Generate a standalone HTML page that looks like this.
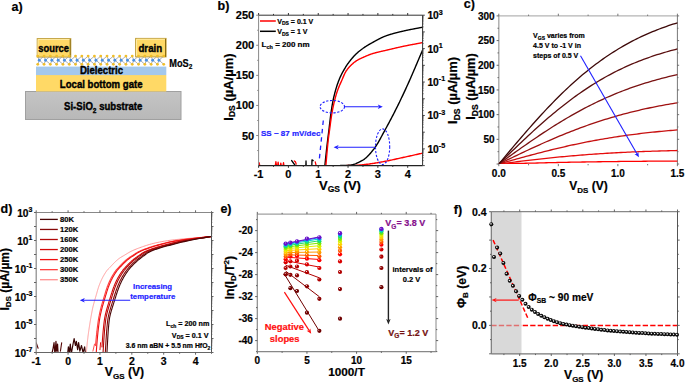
<!DOCTYPE html><html><head><meta charset="utf-8"><style>html,body{margin:0;padding:0;background:#fff;overflow:hidden}svg{display:block}</style></head><body>
<svg width="685" height="383" viewBox="0 0 685 383" style="font-family:'Liberation Sans',sans-serif;font-weight:bold">
<rect width="685" height="383" fill="#fff"/>
<text x="11.50" y="10.90" font-size="12.5" text-anchor="start" fill="#000" stroke="#000" stroke-width="0.2" >a)</text>
<defs><linearGradient id="gsub" x1="0" y1="0" x2="0" y2="1"><stop offset="0" stop-color="#c4c4c4"/><stop offset="1" stop-color="#b8b8b8"/></linearGradient><linearGradient id="ggold" x1="0" y1="0" x2="0" y2="1"><stop offset="0" stop-color="#ffe07a"/><stop offset="1" stop-color="#ffd54f"/></linearGradient></defs>
<rect x="25.5" y="91.5" width="155.5" height="28" fill="url(#gsub)" stroke="#a0a0a0" stroke-width="1"/>
<rect x="36" y="75" width="130.3" height="16.5" fill="#ffd966"/>
<rect x="36" y="66.6" width="130.3" height="8.5" fill="#a4c8ec"/>
<rect x="37.2" y="38.6" width="33.6" height="18.5" fill="#ffd966" stroke="#c0a040" stroke-width="1"/>
<path d="M38.1,56.2 L38.1,39.5 L69.9,39.5" stroke="#ffeaa0" stroke-width="1" fill="none"/>
<path d="M70.20000000000002,39.1 L70.20000000000002,57.1" stroke="#8c6d10" stroke-width="1" fill="none"/>
<rect x="135.6" y="38.4" width="30.5" height="18.5" fill="#ffd966" stroke="#c0a040" stroke-width="1"/>
<path d="M136.5,56.0 L136.5,39.3 L165.2,39.3" stroke="#ffeaa0" stroke-width="1" fill="none"/>
<path d="M165.5,38.9 L165.5,56.9" stroke="#8c6d10" stroke-width="1" fill="none"/>
<text x="53.60" y="51.80" font-size="9.4" text-anchor="middle" fill="#000" stroke="#000" stroke-width="0.35" transform="translate(53.60 51.80) scale(1 1.1) translate(-53.60 -51.80)" >source</text>
<text x="150.30" y="51.60" font-size="9.7" text-anchor="middle" fill="#000" stroke="#000" stroke-width="0.35" transform="translate(150.30 51.60) scale(1 1.1) translate(-150.30 -51.60)" >drain</text>
<path d="M39.25,60.2 L37.75,56.1 M39.25,60.2 L37.75,64.3 M39.25,60.2 L44.05,56.1 M39.25,60.2 L44.05,64.3 M45.55,60.2 L44.05,56.1 M45.55,60.2 L44.05,64.3 M45.55,60.2 L50.35,56.1 M45.55,60.2 L50.35,64.3 M51.85,60.2 L50.35,56.1 M51.85,60.2 L50.35,64.3 M51.85,60.2 L56.65,56.1 M51.85,60.2 L56.65,64.3 M58.15,60.2 L56.65,56.1 M58.15,60.2 L56.65,64.3 M58.15,60.2 L62.95,56.1 M58.15,60.2 L62.95,64.3 M64.45,60.2 L62.95,56.1 M64.45,60.2 L62.95,64.3 M64.45,60.2 L69.25,56.1 M64.45,60.2 L69.25,64.3 M70.75,60.2 L69.25,56.1 M70.75,60.2 L69.25,64.3 M70.75,60.2 L75.55,56.1 M70.75,60.2 L75.55,64.3 M77.05,60.2 L75.55,56.1 M77.05,60.2 L75.55,64.3 M77.05,60.2 L81.85,56.1 M77.05,60.2 L81.85,64.3 M83.35,60.2 L81.85,56.1 M83.35,60.2 L81.85,64.3 M83.35,60.2 L88.15,56.1 M83.35,60.2 L88.15,64.3 M89.65,60.2 L88.15,56.1 M89.65,60.2 L88.15,64.3 M89.65,60.2 L94.45,56.1 M89.65,60.2 L94.45,64.3 M95.95,60.2 L94.45,56.1 M95.95,60.2 L94.45,64.3 M95.95,60.2 L100.75,56.1 M95.95,60.2 L100.75,64.3 M102.25,60.2 L100.75,56.1 M102.25,60.2 L100.75,64.3 M102.25,60.2 L107.05,56.1 M102.25,60.2 L107.05,64.3 M108.55,60.2 L107.05,56.1 M108.55,60.2 L107.05,64.3 M108.55,60.2 L113.35,56.1 M108.55,60.2 L113.35,64.3 M114.85,60.2 L113.35,56.1 M114.85,60.2 L113.35,64.3 M114.85,60.2 L119.65,56.1 M114.85,60.2 L119.65,64.3 M121.15,60.2 L119.65,56.1 M121.15,60.2 L119.65,64.3 M121.15,60.2 L125.95,56.1 M121.15,60.2 L125.95,64.3 M127.45,60.2 L125.95,56.1 M127.45,60.2 L125.95,64.3 M127.45,60.2 L132.25,56.1 M127.45,60.2 L132.25,64.3 M133.75,60.2 L132.25,56.1 M133.75,60.2 L132.25,64.3 M133.75,60.2 L138.55,56.1 M133.75,60.2 L138.55,64.3 M140.05,60.2 L138.55,56.1 M140.05,60.2 L138.55,64.3 M140.05,60.2 L144.85,56.1 M140.05,60.2 L144.85,64.3 M146.35,60.2 L144.85,56.1 M146.35,60.2 L144.85,64.3 M146.35,60.2 L151.15,56.1 M146.35,60.2 L151.15,64.3 M152.65,60.2 L151.15,56.1 M152.65,60.2 L151.15,64.3 M152.65,60.2 L157.45,56.1 M152.65,60.2 L157.45,64.3 M158.95,60.2 L157.45,56.1 M158.95,60.2 L157.45,64.3 M158.95,60.2 L163.75,56.1 M158.95,60.2 L163.75,64.3" stroke="#9a9a9a" stroke-width="0.8" fill="none"/>
<circle cx="37.75" cy="56.1" r="1.4" fill="#f0be28"/>
<circle cx="37.75" cy="64.3" r="1.4" fill="#f0be28"/>
<circle cx="44.05" cy="56.1" r="1.4" fill="#f0be28"/>
<circle cx="44.05" cy="64.3" r="1.4" fill="#f0be28"/>
<circle cx="50.35" cy="56.1" r="1.4" fill="#f0be28"/>
<circle cx="50.35" cy="64.3" r="1.4" fill="#f0be28"/>
<circle cx="56.65" cy="56.1" r="1.4" fill="#f0be28"/>
<circle cx="56.65" cy="64.3" r="1.4" fill="#f0be28"/>
<circle cx="62.95" cy="56.1" r="1.4" fill="#f0be28"/>
<circle cx="62.95" cy="64.3" r="1.4" fill="#f0be28"/>
<circle cx="69.25" cy="56.1" r="1.4" fill="#f0be28"/>
<circle cx="69.25" cy="64.3" r="1.4" fill="#f0be28"/>
<circle cx="75.55" cy="56.1" r="1.4" fill="#f0be28"/>
<circle cx="75.55" cy="64.3" r="1.4" fill="#f0be28"/>
<circle cx="81.85" cy="56.1" r="1.4" fill="#f0be28"/>
<circle cx="81.85" cy="64.3" r="1.4" fill="#f0be28"/>
<circle cx="88.15" cy="56.1" r="1.4" fill="#f0be28"/>
<circle cx="88.15" cy="64.3" r="1.4" fill="#f0be28"/>
<circle cx="94.45" cy="56.1" r="1.4" fill="#f0be28"/>
<circle cx="94.45" cy="64.3" r="1.4" fill="#f0be28"/>
<circle cx="100.75" cy="56.1" r="1.4" fill="#f0be28"/>
<circle cx="100.75" cy="64.3" r="1.4" fill="#f0be28"/>
<circle cx="107.05" cy="56.1" r="1.4" fill="#f0be28"/>
<circle cx="107.05" cy="64.3" r="1.4" fill="#f0be28"/>
<circle cx="113.35" cy="56.1" r="1.4" fill="#f0be28"/>
<circle cx="113.35" cy="64.3" r="1.4" fill="#f0be28"/>
<circle cx="119.65" cy="56.1" r="1.4" fill="#f0be28"/>
<circle cx="119.65" cy="64.3" r="1.4" fill="#f0be28"/>
<circle cx="125.95" cy="56.1" r="1.4" fill="#f0be28"/>
<circle cx="125.95" cy="64.3" r="1.4" fill="#f0be28"/>
<circle cx="132.25" cy="56.1" r="1.4" fill="#f0be28"/>
<circle cx="132.25" cy="64.3" r="1.4" fill="#f0be28"/>
<circle cx="138.55" cy="56.1" r="1.4" fill="#f0be28"/>
<circle cx="138.55" cy="64.3" r="1.4" fill="#f0be28"/>
<circle cx="144.85" cy="56.1" r="1.4" fill="#f0be28"/>
<circle cx="144.85" cy="64.3" r="1.4" fill="#f0be28"/>
<circle cx="151.15" cy="56.1" r="1.4" fill="#f0be28"/>
<circle cx="151.15" cy="64.3" r="1.4" fill="#f0be28"/>
<circle cx="157.45" cy="56.1" r="1.4" fill="#f0be28"/>
<circle cx="157.45" cy="64.3" r="1.4" fill="#f0be28"/>
<circle cx="163.75" cy="56.1" r="1.4" fill="#f0be28"/>
<circle cx="163.75" cy="64.3" r="1.4" fill="#f0be28"/>
<circle cx="39.25" cy="60.2" r="1.45" fill="#4a90e2"/>
<circle cx="45.55" cy="60.2" r="1.45" fill="#4a90e2"/>
<circle cx="51.85" cy="60.2" r="1.45" fill="#4a90e2"/>
<circle cx="58.15" cy="60.2" r="1.45" fill="#4a90e2"/>
<circle cx="64.45" cy="60.2" r="1.45" fill="#4a90e2"/>
<circle cx="70.75" cy="60.2" r="1.45" fill="#4a90e2"/>
<circle cx="77.05" cy="60.2" r="1.45" fill="#4a90e2"/>
<circle cx="83.35" cy="60.2" r="1.45" fill="#4a90e2"/>
<circle cx="89.65" cy="60.2" r="1.45" fill="#4a90e2"/>
<circle cx="95.95" cy="60.2" r="1.45" fill="#4a90e2"/>
<circle cx="102.25" cy="60.2" r="1.45" fill="#4a90e2"/>
<circle cx="108.55" cy="60.2" r="1.45" fill="#4a90e2"/>
<circle cx="114.85" cy="60.2" r="1.45" fill="#4a90e2"/>
<circle cx="121.15" cy="60.2" r="1.45" fill="#4a90e2"/>
<circle cx="127.45" cy="60.2" r="1.45" fill="#4a90e2"/>
<circle cx="133.75" cy="60.2" r="1.45" fill="#4a90e2"/>
<circle cx="140.05" cy="60.2" r="1.45" fill="#4a90e2"/>
<circle cx="146.35" cy="60.2" r="1.45" fill="#4a90e2"/>
<circle cx="152.65" cy="60.2" r="1.45" fill="#4a90e2"/>
<circle cx="158.95" cy="60.2" r="1.45" fill="#4a90e2"/>
<text x="169.30" y="66.70" font-size="9.2" text-anchor="start" fill="#000" stroke="#000" stroke-width="0.2" transform="translate(169.30 66.70) scale(1 1.1) translate(-169.30 -66.70)" >MoS<tspan font-size="6.5" dy="2.2">2</tspan></text>
<text x="101.50" y="74.50" font-size="9.6" text-anchor="middle" fill="#000" stroke="#000" stroke-width="0.35" transform="translate(101.50 74.50) scale(1 1.1) translate(-101.50 -74.50)" >Dielectric</text>
<text x="101.20" y="87.60" font-size="9.6" text-anchor="middle" fill="#000" stroke="#000" stroke-width="0.35" transform="translate(101.20 87.60) scale(1 1.12) translate(-101.20 -87.60)" >Local bottom gate</text>
<text x="103.20" y="110.20" font-size="9.6" text-anchor="middle" fill="#000" stroke="#000" stroke-width="0.35" transform="translate(103.20 110.20) scale(1 1.12) translate(-103.20 -110.20)" >Si-SiO<tspan font-size="6.5" dy="2.2">2</tspan><tspan dy="-2.2"> substrate</tspan></text>
<text x="217.50" y="9.80" font-size="12.5" text-anchor="start" fill="#000" stroke="#000" stroke-width="0.2" >b)</text>
<defs><clipPath id="cb"><rect x="258.6" y="12.2" width="164.0" height="153.4"/></clipPath></defs>
<g clip-path="url(#cb)">
<path d="M258.60,165.60 L259.05,162.60 L259.79,165.60" fill="none" stroke="#f00" stroke-width="1.3" stroke-linejoin="round" stroke-linecap="round" />
<path d="M275.30,165.60 L275.89,161.60 L276.49,165.60 L277.68,165.60 L278.13,162.10 L278.58,165.60 L280.37,165.60 L280.81,163.10 L281.26,165.60" fill="none" stroke="#f00" stroke-width="1.3" stroke-linejoin="round" stroke-linecap="round" />
<path d="M283.05,165.60 L283.50,162.60 L283.95,165.60" fill="none" stroke="#f00" stroke-width="1.3" stroke-linejoin="round" stroke-linecap="round" />
<path d="M294.38,161.00 L295.57,162.10 L296.17,164.10" fill="none" stroke="#f00" stroke-width="1.3" stroke-linejoin="round" stroke-linecap="round" />
<path d="M291.70,160.60 L293.49,163.10 L294.98,165.10" fill="none" stroke="#000" stroke-width="1.4" stroke-linejoin="round" stroke-linecap="round" />
<path d="M305.86,165.60 L306.01,161.00 L306.16,165.60" fill="none" stroke="#000" stroke-width="1.3" stroke-linejoin="round" stroke-linecap="round" />
<path d="M311.83,165.60 L311.97,159.80 L313.17,160.60" fill="none" stroke="#000" stroke-width="1.3" stroke-linejoin="round" stroke-linecap="round" />
<path d="M315.25,161.80 L316.15,165.60" fill="none" stroke="#f00" stroke-width="1.3" stroke-linejoin="round" stroke-linecap="round" />
<path d="M345.07,165.60 L346.05,165.58 L347.04,165.56 L348.02,165.55 L349.00,165.53 L349.98,165.52 L350.96,165.50 L351.94,165.48 L352.92,165.45 L353.90,165.42 L354.89,165.39 L355.87,165.34 L356.85,165.28 L357.83,165.21 L358.81,165.13 L359.79,165.04 L360.77,164.95 L361.76,164.85 L362.74,164.75 L363.72,164.64 L364.70,164.53 L365.68,164.43 L366.66,164.32 L367.64,164.20 L368.63,164.08 L369.61,163.94 L370.59,163.81 L371.57,163.66 L372.55,163.51 L373.53,163.36 L374.51,163.20 L375.49,163.04 L376.48,162.87 L377.46,162.70 L378.44,162.53 L379.42,162.36 L380.40,162.18 L381.38,162.00 L382.36,161.82 L383.35,161.64 L384.33,161.46 L385.31,161.28 L386.29,161.10 L387.27,160.90 L388.25,160.71 L389.23,160.51 L390.22,160.30 L391.20,160.10 L392.18,159.88 L393.16,159.67 L394.14,159.46 L395.12,159.24 L396.10,159.02 L397.08,158.80 L398.07,158.59 L399.05,158.37 L400.03,158.15 L401.01,157.94 L401.99,157.72 L402.97,157.51 L403.95,157.29 L404.94,157.08 L405.92,156.86 L406.90,156.65 L407.88,156.43 L408.86,156.21 L409.84,155.99 L410.82,155.78 L411.81,155.56 L412.79,155.34 L413.77,155.12 L414.75,154.90 L415.73,154.68 L416.71,154.46 L417.69,154.24 L418.67,154.02 L419.66,153.80 L420.64,153.58 L421.62,153.36 L422.60,153.15" fill="none" stroke="#ff0000" stroke-width="1.4" stroke-linejoin="round" stroke-linecap="round" />
<path d="M339.11,165.60 L339.81,165.58 L340.51,165.55 L341.21,165.53 L341.92,165.52 L342.62,165.50 L343.32,165.48 L344.02,165.46 L344.72,165.44 L345.42,165.42 L346.13,165.39 L346.83,165.36 L347.53,165.33 L348.23,165.30 L348.93,165.26 L349.63,165.21 L350.33,165.13 L351.04,165.02 L351.74,164.89 L352.44,164.72 L353.14,164.53 L353.84,164.32 L354.54,164.08 L355.25,163.82 L355.95,163.54 L356.65,163.24 L357.35,162.93 L358.05,162.60 L358.75,162.26 L359.46,161.91 L360.16,161.54 L360.86,161.17 L361.56,160.79 L362.26,160.41 L362.96,160.02 L363.67,159.58 L364.37,159.09 L365.07,158.56 L365.77,157.98 L366.47,157.36 L367.17,156.71 L367.87,156.01 L368.58,155.29 L369.28,154.53 L369.98,153.75 L370.68,152.95 L371.38,152.12 L372.08,151.28 L372.79,150.42 L373.49,149.55 L374.19,148.66 L374.89,147.71 L375.59,146.69 L376.29,145.62 L377.00,144.49 L377.70,143.32 L378.40,142.11 L379.10,140.87 L379.80,139.61 L380.50,138.32 L381.21,137.02 L381.91,135.72 L382.61,134.41 L383.31,133.11 L384.01,131.82 L384.71,130.55 L385.41,129.28 L386.12,128.01 L386.82,126.73 L387.52,125.44 L388.22,124.14 L388.92,122.84 L389.62,121.52 L390.33,120.20 L391.03,118.86 L391.73,117.52 L392.43,116.17 L393.13,114.82 L393.83,113.45 L394.54,112.07 L395.24,110.69 L395.94,109.30 L396.64,107.90 L397.34,106.49 L398.04,105.07 L398.75,103.64 L399.45,102.20 L400.15,100.75 L400.85,99.29 L401.55,97.82 L402.25,96.35 L402.96,94.86 L403.66,93.37 L404.36,91.87 L405.06,90.35 L405.76,88.84 L406.46,87.31 L407.16,85.77 L407.87,84.23 L408.57,82.66 L409.27,81.09 L409.97,79.50 L410.67,77.91 L411.37,76.30 L412.08,74.68 L412.78,73.06 L413.48,71.43 L414.18,69.79 L414.88,68.15 L415.58,66.51 L416.29,64.86 L416.99,63.21 L417.69,61.57 L418.39,59.92 L419.09,58.27 L419.79,56.63 L420.50,54.98 L421.20,53.35 L421.90,51.72 L422.60,50.09" fill="none" stroke="#000" stroke-width="1.4" stroke-linejoin="round" stroke-linecap="round" />
<path d="M324.35,170.61 L324.68,167.48 L325.01,164.31 L325.33,161.12 L325.66,157.94 L325.99,154.79 L326.32,151.70 L326.65,148.68 L326.98,145.76 L327.31,142.97 L327.64,140.30 L327.96,137.69 L328.29,135.10 L328.62,132.50 L328.95,129.85 L329.28,127.07 L329.61,124.19 L329.94,121.31 L330.26,118.50 L330.59,115.87 L330.92,113.48 L331.25,111.19 L331.58,108.99 L331.91,106.89 L332.24,104.90 L332.56,103.05 L332.89,101.33 L333.22,99.74 L333.55,98.22 L333.88,96.76 L334.21,95.38 L334.54,94.05 L334.86,92.78 L335.19,91.56 L335.52,90.39 L335.85,89.26 L336.18,88.16 L336.51,87.10 L336.84,86.07 L337.16,85.06 L337.49,84.09 L337.82,83.15 L338.15,82.23 L338.48,81.34 L338.81,80.49 L339.14,79.66 L339.46,78.85 L339.79,78.08 L340.12,77.33 L340.45,76.60 L340.78,75.90 L341.11,75.21 L341.44,74.55 L341.76,73.90 L342.09,73.26 L342.42,72.65 L342.75,72.04 L343.08,71.45 L343.41,70.86 L343.74,70.28 L344.06,69.71 L344.39,69.15 L344.72,68.59 L345.05,68.04 L345.38,67.50 L345.71,66.97 L346.04,66.44 L346.37,65.93 L346.69,65.42 L347.02,64.93 L347.35,64.44 L347.68,63.97 L348.01,63.50 L348.34,63.05 L348.67,62.61 L348.99,62.17 L349.32,61.74 L349.65,61.31 L349.98,60.89 L350.31,60.47 L350.64,60.06 L350.97,59.65 L351.29,59.24 L351.62,58.84 L351.95,58.45 L352.28,58.06 L352.61,57.68 L352.94,57.30 L353.27,56.93 L353.59,56.56 L353.92,56.20 L354.25,55.85 L354.58,55.50 L354.91,55.16 L355.24,54.83 L355.57,54.50 L355.89,54.18 L356.22,53.86 L356.55,53.55 L356.88,53.25 L357.21,52.95 L357.54,52.65 L357.87,52.36 L358.19,52.08 L358.52,51.80 L358.85,51.52 L359.18,51.25 L359.51,50.98 L359.84,50.71 L360.17,50.45 L360.49,50.19 L360.82,49.94 L361.15,49.69 L361.48,49.44 L361.81,49.19 L362.14,48.95 L362.47,48.71 L362.80,48.48 L363.12,48.24 L363.45,48.01 L363.78,47.78 L364.11,47.56 L364.44,47.33 L364.77,47.11 L365.10,46.89 L365.42,46.68 L365.75,46.46 L366.08,46.25 L366.41,46.05 L366.74,45.84 L367.07,45.64 L367.40,45.44 L367.72,45.24 L368.05,45.04 L368.38,44.85 L368.71,44.66 L369.04,44.47 L369.37,44.28 L369.70,44.09 L370.02,43.90 L370.35,43.72 L370.68,43.54 L371.01,43.35 L371.34,43.17 L371.67,42.99 L372.00,42.81 L372.32,42.63 L372.65,42.45 L372.98,42.27 L373.31,42.08 L373.64,41.90 L373.97,41.72 L374.30,41.54 L374.62,41.36 L374.95,41.17 L375.28,40.99 L375.61,40.81 L375.94,40.63 L376.27,40.45 L376.60,40.27 L376.92,40.10 L377.25,39.92 L377.58,39.74 L377.91,39.57 L378.24,39.39 L378.57,39.22 L378.90,39.05 L379.23,38.88 L379.55,38.71 L379.88,38.54 L380.21,38.37 L380.54,38.21 L380.87,38.05 L381.20,37.89 L381.53,37.73 L381.85,37.58 L382.18,37.42 L382.51,37.27 L382.84,37.12 L383.17,36.98 L383.50,36.84 L383.83,36.69 L384.15,36.56 L384.48,36.42 L384.81,36.29 L385.14,36.16 L385.47,36.04 L385.80,35.92 L386.13,35.80 L386.45,35.68 L386.78,35.57 L387.11,35.45 L387.44,35.34 L387.77,35.23 L388.10,35.12 L388.43,35.01 L388.75,34.90 L389.08,34.80 L389.41,34.69 L389.74,34.59 L390.07,34.49 L390.40,34.39 L390.73,34.29 L391.05,34.19 L391.38,34.09 L391.71,34.00 L392.04,33.90 L392.37,33.81 L392.70,33.71 L393.03,33.62 L393.35,33.53 L393.68,33.44 L394.01,33.35 L394.34,33.26 L394.67,33.17 L395.00,33.08 L395.33,32.99 L395.65,32.91 L395.98,32.82 L396.31,32.74 L396.64,32.66 L396.97,32.57 L397.30,32.49 L397.63,32.41 L397.96,32.33 L398.28,32.25 L398.61,32.17 L398.94,32.09 L399.27,32.01 L399.60,31.93 L399.93,31.85 L400.26,31.77 L400.58,31.69 L400.91,31.62 L401.24,31.54 L401.57,31.46 L401.90,31.39 L402.23,31.31 L402.56,31.23 L402.88,31.16 L403.21,31.08 L403.54,31.01 L403.87,30.93 L404.20,30.86 L404.53,30.78 L404.86,30.71 L405.18,30.63 L405.51,30.56 L405.84,30.49 L406.17,30.42 L406.50,30.34 L406.83,30.27 L407.16,30.20 L407.48,30.13 L407.81,30.07 L408.14,30.00 L408.47,29.93 L408.80,29.86 L409.13,29.80 L409.46,29.73 L409.78,29.66 L410.11,29.60 L410.44,29.53 L410.77,29.47 L411.10,29.40 L411.43,29.34 L411.76,29.28 L412.08,29.21 L412.41,29.15 L412.74,29.09 L413.07,29.03 L413.40,28.96 L413.73,28.90 L414.06,28.84 L414.39,28.78 L414.71,28.72 L415.04,28.66 L415.37,28.60 L415.70,28.53 L416.03,28.47 L416.36,28.41 L416.69,28.35 L417.01,28.29 L417.34,28.23 L417.67,28.17 L418.00,28.11 L418.33,28.05 L418.66,27.98 L418.99,27.92 L419.31,27.86 L419.64,27.80 L419.97,27.74 L420.30,27.68 L420.63,27.61 L420.96,27.55 L421.29,27.49 L421.61,27.42 L421.94,27.36 L422.27,27.30 L422.60,27.23" fill="none" stroke="#000" stroke-width="1.4" stroke-linejoin="round" stroke-linecap="round" />
<path d="M325.39,170.61 L325.72,167.05 L326.04,163.38 L326.37,159.66 L326.69,155.94 L327.02,152.28 L327.34,148.72 L327.67,145.33 L327.99,142.15 L328.32,139.24 L328.64,136.64 L328.97,134.26 L329.29,131.96 L329.62,129.62 L329.94,127.20 L330.27,124.72 L330.59,122.26 L330.92,119.85 L331.24,117.54 L331.57,115.39 L331.89,113.43 L332.22,111.60 L332.55,109.84 L332.87,108.17 L333.20,106.57 L333.52,105.04 L333.85,103.59 L334.17,102.20 L334.50,100.87 L334.82,99.59 L335.15,98.36 L335.47,97.17 L335.80,96.02 L336.12,94.92 L336.45,93.85 L336.77,92.82 L337.10,91.83 L337.42,90.88 L337.75,89.96 L338.07,89.07 L338.40,88.23 L338.72,87.41 L339.05,86.62 L339.37,85.85 L339.70,85.09 L340.02,84.35 L340.35,83.62 L340.67,82.89 L341.00,82.16 L341.32,81.43 L341.65,80.69 L341.97,79.94 L342.30,79.17 L342.62,78.40 L342.95,77.63 L343.27,76.87 L343.60,76.11 L343.92,75.37 L344.25,74.65 L344.57,73.95 L344.90,73.28 L345.22,72.65 L345.55,72.05 L345.87,71.50 L346.20,70.99 L346.52,70.50 L346.85,70.03 L347.17,69.57 L347.50,69.14 L347.83,68.72 L348.15,68.32 L348.48,67.93 L348.80,67.55 L349.13,67.19 L349.45,66.83 L349.78,66.49 L350.10,66.15 L350.43,65.82 L350.75,65.49 L351.08,65.17 L351.40,64.86 L351.73,64.55 L352.05,64.24 L352.38,63.95 L352.70,63.66 L353.03,63.37 L353.35,63.09 L353.68,62.82 L354.00,62.56 L354.33,62.30 L354.65,62.05 L354.98,61.81 L355.30,61.57 L355.63,61.34 L355.95,61.12 L356.28,60.91 L356.60,60.70 L356.93,60.50 L357.25,60.31 L357.58,60.12 L357.90,59.93 L358.23,59.75 L358.55,59.57 L358.88,59.40 L359.20,59.23 L359.53,59.07 L359.85,58.90 L360.18,58.74 L360.50,58.59 L360.83,58.43 L361.15,58.28 L361.48,58.13 L361.80,57.98 L362.13,57.83 L362.46,57.68 L362.78,57.54 L363.11,57.39 L363.43,57.25 L363.76,57.10 L364.08,56.96 L364.41,56.81 L364.73,56.67 L365.06,56.53 L365.38,56.38 L365.71,56.24 L366.03,56.10 L366.36,55.96 L366.68,55.82 L367.01,55.68 L367.33,55.54 L367.66,55.41 L367.98,55.27 L368.31,55.14 L368.63,55.01 L368.96,54.88 L369.28,54.76 L369.61,54.63 L369.93,54.51 L370.26,54.39 L370.58,54.28 L370.91,54.16 L371.23,54.05 L371.56,53.94 L371.88,53.84 L372.21,53.74 L372.53,53.64 L372.86,53.54 L373.18,53.44 L373.51,53.35 L373.83,53.25 L374.16,53.16 L374.48,53.07 L374.81,52.98 L375.13,52.89 L375.46,52.80 L375.78,52.71 L376.11,52.63 L376.43,52.54 L376.76,52.46 L377.08,52.38 L377.41,52.30 L377.74,52.21 L378.06,52.13 L378.39,52.06 L378.71,51.98 L379.04,51.90 L379.36,51.82 L379.69,51.74 L380.01,51.67 L380.34,51.59 L380.66,51.52 L380.99,51.44 L381.31,51.37 L381.64,51.29 L381.96,51.22 L382.29,51.15 L382.61,51.07 L382.94,51.00 L383.26,50.93 L383.59,50.85 L383.91,50.78 L384.24,50.71 L384.56,50.63 L384.89,50.56 L385.21,50.48 L385.54,50.41 L385.86,50.33 L386.19,50.26 L386.51,50.18 L386.84,50.11 L387.16,50.03 L387.49,49.96 L387.81,49.88 L388.14,49.80 L388.46,49.72 L388.79,49.65 L389.11,49.57 L389.44,49.49 L389.76,49.41 L390.09,49.33 L390.41,49.26 L390.74,49.18 L391.06,49.10 L391.39,49.03 L391.71,48.95 L392.04,48.87 L392.36,48.79 L392.69,48.72 L393.02,48.64 L393.34,48.56 L393.67,48.49 L393.99,48.41 L394.32,48.33 L394.64,48.26 L394.97,48.18 L395.29,48.11 L395.62,48.03 L395.94,47.95 L396.27,47.88 L396.59,47.80 L396.92,47.73 L397.24,47.66 L397.57,47.58 L397.89,47.51 L398.22,47.43 L398.54,47.36 L398.87,47.29 L399.19,47.21 L399.52,47.14 L399.84,47.07 L400.17,47.00 L400.49,46.92 L400.82,46.85 L401.14,46.78 L401.47,46.71 L401.79,46.64 L402.12,46.57 L402.44,46.50 L402.77,46.43 L403.09,46.36 L403.42,46.29 L403.74,46.23 L404.07,46.16 L404.39,46.09 L404.72,46.02 L405.04,45.96 L405.37,45.89 L405.69,45.83 L406.02,45.76 L406.34,45.70 L406.67,45.63 L406.99,45.57 L407.32,45.50 L407.65,45.44 L407.97,45.37 L408.30,45.31 L408.62,45.25 L408.95,45.18 L409.27,45.12 L409.60,45.06 L409.92,44.99 L410.25,44.93 L410.57,44.87 L410.90,44.81 L411.22,44.75 L411.55,44.68 L411.87,44.62 L412.20,44.56 L412.52,44.50 L412.85,44.44 L413.17,44.38 L413.50,44.32 L413.82,44.26 L414.15,44.20 L414.47,44.13 L414.80,44.07 L415.12,44.01 L415.45,43.95 L415.77,43.89 L416.10,43.83 L416.42,43.77 L416.75,43.71 L417.07,43.65 L417.40,43.59 L417.72,43.53 L418.05,43.47 L418.37,43.41 L418.70,43.35 L419.02,43.28 L419.35,43.22 L419.67,43.16 L420.00,43.10 L420.32,43.04 L420.65,42.98 L420.97,42.92 L421.30,42.85 L421.62,42.79 L421.95,42.73 L422.27,42.67 L422.60,42.61" fill="none" stroke="#ff0000" stroke-width="1.4" stroke-linejoin="round" stroke-linecap="round" />
</g>
<line x1="258.60" y1="15.20" x2="258.60" y2="165.60" stroke="#888" stroke-width="1" />
<line x1="258.60" y1="15.20" x2="422.60" y2="15.20" stroke="#333" stroke-width="1" />
<line x1="422.60" y1="15.20" x2="422.60" y2="165.60" stroke="#333" stroke-width="1" />
<line x1="258.60" y1="165.60" x2="422.60" y2="165.60" stroke="#222" stroke-width="1.2" />
<line x1="258.60" y1="165.60" x2="258.60" y2="167.80" stroke="#333" stroke-width="1" />
<line x1="258.60" y1="15.20" x2="258.60" y2="13.00" stroke="#333" stroke-width="1" />
<line x1="273.51" y1="165.60" x2="273.51" y2="166.90" stroke="#333" stroke-width="1" />
<line x1="273.51" y1="15.20" x2="273.51" y2="13.90" stroke="#333" stroke-width="1" />
<line x1="288.42" y1="165.60" x2="288.42" y2="167.80" stroke="#333" stroke-width="1" />
<line x1="288.42" y1="15.20" x2="288.42" y2="13.00" stroke="#333" stroke-width="1" />
<line x1="303.33" y1="165.60" x2="303.33" y2="166.90" stroke="#333" stroke-width="1" />
<line x1="303.33" y1="15.20" x2="303.33" y2="13.90" stroke="#333" stroke-width="1" />
<line x1="318.24" y1="165.60" x2="318.24" y2="167.80" stroke="#333" stroke-width="1" />
<line x1="318.24" y1="15.20" x2="318.24" y2="13.00" stroke="#333" stroke-width="1" />
<line x1="333.15" y1="165.60" x2="333.15" y2="166.90" stroke="#333" stroke-width="1" />
<line x1="333.15" y1="15.20" x2="333.15" y2="13.90" stroke="#333" stroke-width="1" />
<line x1="348.05" y1="165.60" x2="348.05" y2="167.80" stroke="#333" stroke-width="1" />
<line x1="348.05" y1="15.20" x2="348.05" y2="13.00" stroke="#333" stroke-width="1" />
<line x1="362.96" y1="165.60" x2="362.96" y2="166.90" stroke="#333" stroke-width="1" />
<line x1="362.96" y1="15.20" x2="362.96" y2="13.90" stroke="#333" stroke-width="1" />
<line x1="377.87" y1="165.60" x2="377.87" y2="167.80" stroke="#333" stroke-width="1" />
<line x1="377.87" y1="15.20" x2="377.87" y2="13.00" stroke="#333" stroke-width="1" />
<line x1="392.78" y1="165.60" x2="392.78" y2="166.90" stroke="#333" stroke-width="1" />
<line x1="392.78" y1="15.20" x2="392.78" y2="13.90" stroke="#333" stroke-width="1" />
<line x1="407.69" y1="165.60" x2="407.69" y2="167.80" stroke="#333" stroke-width="1" />
<line x1="407.69" y1="15.20" x2="407.69" y2="13.00" stroke="#333" stroke-width="1" />
<line x1="258.60" y1="150.56" x2="257.20" y2="150.56" stroke="#888" stroke-width="1" />
<line x1="258.60" y1="135.52" x2="256.20" y2="135.52" stroke="#888" stroke-width="1" />
<line x1="258.60" y1="120.48" x2="257.20" y2="120.48" stroke="#888" stroke-width="1" />
<line x1="258.60" y1="105.44" x2="256.20" y2="105.44" stroke="#888" stroke-width="1" />
<line x1="258.60" y1="90.40" x2="257.20" y2="90.40" stroke="#888" stroke-width="1" />
<line x1="258.60" y1="75.36" x2="256.20" y2="75.36" stroke="#888" stroke-width="1" />
<line x1="258.60" y1="60.32" x2="257.20" y2="60.32" stroke="#888" stroke-width="1" />
<line x1="258.60" y1="45.28" x2="256.20" y2="45.28" stroke="#888" stroke-width="1" />
<line x1="258.60" y1="30.24" x2="257.20" y2="30.24" stroke="#888" stroke-width="1" />
<line x1="258.60" y1="15.20" x2="256.20" y2="15.20" stroke="#888" stroke-width="1" />
<line x1="422.60" y1="165.60" x2="424.80" y2="165.60" stroke="#333" stroke-width="0.9" />
<line x1="422.60" y1="160.57" x2="423.70" y2="160.57" stroke="#333" stroke-width="0.6" />
<line x1="422.60" y1="157.63" x2="423.70" y2="157.63" stroke="#333" stroke-width="0.6" />
<line x1="422.60" y1="155.54" x2="423.70" y2="155.54" stroke="#333" stroke-width="0.6" />
<line x1="422.60" y1="153.92" x2="423.70" y2="153.92" stroke="#333" stroke-width="0.6" />
<line x1="422.60" y1="152.60" x2="423.70" y2="152.60" stroke="#333" stroke-width="0.6" />
<line x1="422.60" y1="151.48" x2="423.70" y2="151.48" stroke="#333" stroke-width="0.6" />
<line x1="422.60" y1="150.51" x2="423.70" y2="150.51" stroke="#333" stroke-width="0.6" />
<line x1="422.60" y1="149.65" x2="423.70" y2="149.65" stroke="#333" stroke-width="0.6" />
<line x1="422.60" y1="148.89" x2="424.80" y2="148.89" stroke="#333" stroke-width="0.9" />
<line x1="422.60" y1="143.86" x2="423.70" y2="143.86" stroke="#333" stroke-width="0.6" />
<line x1="422.60" y1="140.92" x2="423.70" y2="140.92" stroke="#333" stroke-width="0.6" />
<line x1="422.60" y1="138.83" x2="423.70" y2="138.83" stroke="#333" stroke-width="0.6" />
<line x1="422.60" y1="137.21" x2="423.70" y2="137.21" stroke="#333" stroke-width="0.6" />
<line x1="422.60" y1="135.89" x2="423.70" y2="135.89" stroke="#333" stroke-width="0.6" />
<line x1="422.60" y1="134.77" x2="423.70" y2="134.77" stroke="#333" stroke-width="0.6" />
<line x1="422.60" y1="133.80" x2="423.70" y2="133.80" stroke="#333" stroke-width="0.6" />
<line x1="422.60" y1="132.94" x2="423.70" y2="132.94" stroke="#333" stroke-width="0.6" />
<line x1="422.60" y1="132.18" x2="424.80" y2="132.18" stroke="#333" stroke-width="0.9" />
<line x1="422.60" y1="127.15" x2="423.70" y2="127.15" stroke="#333" stroke-width="0.6" />
<line x1="422.60" y1="124.20" x2="423.70" y2="124.20" stroke="#333" stroke-width="0.6" />
<line x1="422.60" y1="122.12" x2="423.70" y2="122.12" stroke="#333" stroke-width="0.6" />
<line x1="422.60" y1="120.50" x2="423.70" y2="120.50" stroke="#333" stroke-width="0.6" />
<line x1="422.60" y1="119.17" x2="423.70" y2="119.17" stroke="#333" stroke-width="0.6" />
<line x1="422.60" y1="118.06" x2="423.70" y2="118.06" stroke="#333" stroke-width="0.6" />
<line x1="422.60" y1="117.09" x2="423.70" y2="117.09" stroke="#333" stroke-width="0.6" />
<line x1="422.60" y1="116.23" x2="423.70" y2="116.23" stroke="#333" stroke-width="0.6" />
<line x1="422.60" y1="115.47" x2="424.80" y2="115.47" stroke="#333" stroke-width="0.9" />
<line x1="422.60" y1="110.44" x2="423.70" y2="110.44" stroke="#333" stroke-width="0.6" />
<line x1="422.60" y1="107.49" x2="423.70" y2="107.49" stroke="#333" stroke-width="0.6" />
<line x1="422.60" y1="105.41" x2="423.70" y2="105.41" stroke="#333" stroke-width="0.6" />
<line x1="422.60" y1="103.79" x2="423.70" y2="103.79" stroke="#333" stroke-width="0.6" />
<line x1="422.60" y1="102.46" x2="423.70" y2="102.46" stroke="#333" stroke-width="0.6" />
<line x1="422.60" y1="101.34" x2="423.70" y2="101.34" stroke="#333" stroke-width="0.6" />
<line x1="422.60" y1="100.38" x2="423.70" y2="100.38" stroke="#333" stroke-width="0.6" />
<line x1="422.60" y1="99.52" x2="423.70" y2="99.52" stroke="#333" stroke-width="0.6" />
<line x1="422.60" y1="98.76" x2="424.80" y2="98.76" stroke="#333" stroke-width="0.9" />
<line x1="422.60" y1="93.73" x2="423.70" y2="93.73" stroke="#333" stroke-width="0.6" />
<line x1="422.60" y1="90.78" x2="423.70" y2="90.78" stroke="#333" stroke-width="0.6" />
<line x1="422.60" y1="88.69" x2="423.70" y2="88.69" stroke="#333" stroke-width="0.6" />
<line x1="422.60" y1="87.07" x2="423.70" y2="87.07" stroke="#333" stroke-width="0.6" />
<line x1="422.60" y1="85.75" x2="423.70" y2="85.75" stroke="#333" stroke-width="0.6" />
<line x1="422.60" y1="84.63" x2="423.70" y2="84.63" stroke="#333" stroke-width="0.6" />
<line x1="422.60" y1="83.66" x2="423.70" y2="83.66" stroke="#333" stroke-width="0.6" />
<line x1="422.60" y1="82.81" x2="423.70" y2="82.81" stroke="#333" stroke-width="0.6" />
<line x1="422.60" y1="82.04" x2="424.80" y2="82.04" stroke="#333" stroke-width="0.9" />
<line x1="422.60" y1="77.01" x2="423.70" y2="77.01" stroke="#333" stroke-width="0.6" />
<line x1="422.60" y1="74.07" x2="423.70" y2="74.07" stroke="#333" stroke-width="0.6" />
<line x1="422.60" y1="71.98" x2="423.70" y2="71.98" stroke="#333" stroke-width="0.6" />
<line x1="422.60" y1="70.36" x2="423.70" y2="70.36" stroke="#333" stroke-width="0.6" />
<line x1="422.60" y1="69.04" x2="423.70" y2="69.04" stroke="#333" stroke-width="0.6" />
<line x1="422.60" y1="67.92" x2="423.70" y2="67.92" stroke="#333" stroke-width="0.6" />
<line x1="422.60" y1="66.95" x2="423.70" y2="66.95" stroke="#333" stroke-width="0.6" />
<line x1="422.60" y1="66.10" x2="423.70" y2="66.10" stroke="#333" stroke-width="0.6" />
<line x1="422.60" y1="65.33" x2="424.80" y2="65.33" stroke="#333" stroke-width="0.9" />
<line x1="422.60" y1="60.30" x2="423.70" y2="60.30" stroke="#333" stroke-width="0.6" />
<line x1="422.60" y1="57.36" x2="423.70" y2="57.36" stroke="#333" stroke-width="0.6" />
<line x1="422.60" y1="55.27" x2="423.70" y2="55.27" stroke="#333" stroke-width="0.6" />
<line x1="422.60" y1="53.65" x2="423.70" y2="53.65" stroke="#333" stroke-width="0.6" />
<line x1="422.60" y1="52.33" x2="423.70" y2="52.33" stroke="#333" stroke-width="0.6" />
<line x1="422.60" y1="51.21" x2="423.70" y2="51.21" stroke="#333" stroke-width="0.6" />
<line x1="422.60" y1="50.24" x2="423.70" y2="50.24" stroke="#333" stroke-width="0.6" />
<line x1="422.60" y1="49.39" x2="423.70" y2="49.39" stroke="#333" stroke-width="0.6" />
<line x1="422.60" y1="48.62" x2="424.80" y2="48.62" stroke="#333" stroke-width="0.9" />
<line x1="422.60" y1="43.59" x2="423.70" y2="43.59" stroke="#333" stroke-width="0.6" />
<line x1="422.60" y1="40.65" x2="423.70" y2="40.65" stroke="#333" stroke-width="0.6" />
<line x1="422.60" y1="38.56" x2="423.70" y2="38.56" stroke="#333" stroke-width="0.6" />
<line x1="422.60" y1="36.94" x2="423.70" y2="36.94" stroke="#333" stroke-width="0.6" />
<line x1="422.60" y1="35.62" x2="423.70" y2="35.62" stroke="#333" stroke-width="0.6" />
<line x1="422.60" y1="34.50" x2="423.70" y2="34.50" stroke="#333" stroke-width="0.6" />
<line x1="422.60" y1="33.53" x2="423.70" y2="33.53" stroke="#333" stroke-width="0.6" />
<line x1="422.60" y1="32.68" x2="423.70" y2="32.68" stroke="#333" stroke-width="0.6" />
<line x1="422.60" y1="31.91" x2="424.80" y2="31.91" stroke="#333" stroke-width="0.9" />
<line x1="422.60" y1="26.88" x2="423.70" y2="26.88" stroke="#333" stroke-width="0.6" />
<line x1="422.60" y1="23.94" x2="423.70" y2="23.94" stroke="#333" stroke-width="0.6" />
<line x1="422.60" y1="21.85" x2="423.70" y2="21.85" stroke="#333" stroke-width="0.6" />
<line x1="422.60" y1="20.23" x2="423.70" y2="20.23" stroke="#333" stroke-width="0.6" />
<line x1="422.60" y1="18.91" x2="423.70" y2="18.91" stroke="#333" stroke-width="0.6" />
<line x1="422.60" y1="17.79" x2="423.70" y2="17.79" stroke="#333" stroke-width="0.6" />
<line x1="422.60" y1="16.82" x2="423.70" y2="16.82" stroke="#333" stroke-width="0.6" />
<line x1="422.60" y1="15.96" x2="423.70" y2="15.96" stroke="#333" stroke-width="0.6" />
<line x1="422.60" y1="15.20" x2="424.80" y2="15.20" stroke="#333" stroke-width="0.9" />
<text x="254.20" y="139.52" font-size="11" text-anchor="end" fill="#000" stroke="#000" stroke-width="0.2" >50</text>
<text x="254.20" y="109.44" font-size="11" text-anchor="end" fill="#000" stroke="#000" stroke-width="0.2" >100</text>
<text x="254.20" y="79.36" font-size="11" text-anchor="end" fill="#000" stroke="#000" stroke-width="0.2" >150</text>
<text x="254.20" y="49.28" font-size="11" text-anchor="end" fill="#000" stroke="#000" stroke-width="0.2" >200</text>
<text x="254.20" y="19.20" font-size="11" text-anchor="end" fill="#000" stroke="#000" stroke-width="0.2" >250</text>
<text x="258.60" y="178.40" font-size="11" text-anchor="middle" fill="#000" stroke="#000" stroke-width="0.2" >-1</text>
<text x="288.42" y="178.40" font-size="11" text-anchor="middle" fill="#000" stroke="#000" stroke-width="0.2" >0</text>
<text x="318.24" y="178.40" font-size="11" text-anchor="middle" fill="#000" stroke="#000" stroke-width="0.2" >1</text>
<text x="348.05" y="178.40" font-size="11" text-anchor="middle" fill="#000" stroke="#000" stroke-width="0.2" >2</text>
<text x="377.87" y="178.40" font-size="11" text-anchor="middle" fill="#000" stroke="#000" stroke-width="0.2" >3</text>
<text x="407.69" y="178.40" font-size="11" text-anchor="middle" fill="#000" stroke="#000" stroke-width="0.2" >4</text>
<text x="427.40" y="19.20" font-size="10.3" text-anchor="start" fill="#000" stroke="#000" stroke-width="0.2" >10<tspan font-size="7.2" dy="-4.6">3</tspan></text>
<text x="427.40" y="52.62" font-size="10.3" text-anchor="start" fill="#000" stroke="#000" stroke-width="0.2" >10<tspan font-size="7.2" dy="-4.6">1</tspan></text>
<text x="427.40" y="86.04" font-size="10.3" text-anchor="start" fill="#000" stroke="#000" stroke-width="0.2" >10<tspan font-size="7.2" dy="-4.6">-1</tspan></text>
<text x="427.40" y="119.47" font-size="10.3" text-anchor="start" fill="#000" stroke="#000" stroke-width="0.2" >10<tspan font-size="7.2" dy="-4.6">-3</tspan></text>
<text x="427.40" y="152.89" font-size="10.3" text-anchor="start" fill="#000" stroke="#000" stroke-width="0.2" >10<tspan font-size="7.2" dy="-4.6">-5</tspan></text>
<text x="232.80" y="87.00" font-size="13" text-anchor="middle" fill="#000" stroke="#000" stroke-width="0.2" transform="rotate(-90 232.8 87.0)" >I<tspan font-size="8.6" dy="2.6">DS</tspan><tspan dy="-2.6"> (µA/µm)</tspan></text>
<text x="457.20" y="90.50" font-size="12.9" text-anchor="middle" fill="#000" stroke="#000" stroke-width="0.2" transform="rotate(-90 457.2 90.5)" >I<tspan font-size="8.6" dy="2.6">DS</tspan><tspan dy="-2.6"> (µA/µm)</tspan></text>
<text x="319.00" y="189.60" font-size="13" text-anchor="start" fill="#000" stroke="#000" stroke-width="0.2" >V<tspan font-size="8.5" dy="2.8">GS</tspan><tspan dy="-2.8"> (V)</tspan></text>
<line x1="260.00" y1="21.00" x2="275.80" y2="21.00" stroke="#ff0000" stroke-width="1.5" />
<line x1="260.00" y1="31.30" x2="275.80" y2="31.30" stroke="#000" stroke-width="1.5" />
<text x="277.30" y="23.60" font-size="7" text-anchor="start" fill="#000" stroke="#000" stroke-width="0.2" >V<tspan font-size="5" dy="1.6">DS</tspan><tspan dy="-1.6"> = 0.1 V</tspan></text>
<text x="277.30" y="34.00" font-size="7" text-anchor="start" fill="#000" stroke="#000" stroke-width="0.2" >V<tspan font-size="5" dy="1.6">DS</tspan><tspan dy="-1.6"> = 1 V</tspan></text>
<text x="261.60" y="46.90" font-size="8" text-anchor="start" fill="#000" stroke="#000" stroke-width="0.2" >L<tspan font-size="5.5" dy="1.8">ch</tspan><tspan dy="-1.8"> = 200 nm</tspan></text>
<ellipse cx="332.3" cy="106.7" rx="12.2" ry="6.2" fill="none" stroke="#1f1fff" stroke-width="1.1" stroke-dasharray="2.2,1.6"/>
<ellipse cx="382.6" cy="146.7" rx="7.1" ry="17.8" fill="none" stroke="#1f1fff" stroke-width="1.1" stroke-dasharray="2.2,1.6"/>
<line x1="344.90" y1="106.70" x2="378.80" y2="106.70" stroke="#1f1fff" stroke-width="1.1" />
<path d="M382.80,106.70 L377.80,108.90 L379.00,106.70 L377.80,104.50 Z" fill="#1f1fff"/>
<line x1="374.90" y1="147.30" x2="337.60" y2="147.30" stroke="#1f1fff" stroke-width="1.1" />
<path d="M333.60,147.30 L338.60,145.10 L337.40,147.30 L338.60,149.50 Z" fill="#1f1fff"/>
<line x1="323.30" y1="120.50" x2="319.40" y2="158.60" stroke="#1f1fff" stroke-width="1.3" stroke-dasharray="4.5,3.9"/>
<text x="261.00" y="136.30" font-size="8" text-anchor="start" fill="#1f1fff" stroke="#1f1fff" stroke-width="0.2" >SS ~ 87 mV/dec</text>
<text x="463.80" y="7.70" font-size="12.5" text-anchor="start" fill="#000" stroke="#000" stroke-width="0.2" >c)</text>
<defs><clipPath id="cc"><rect x="498.8" y="15.9" width="178.59999999999997" height="148.1"/></clipPath></defs>
<line x1="498.80" y1="15.90" x2="677.40" y2="15.90" stroke="#b4b4b4" stroke-width="1.4" />
<line x1="498.80" y1="15.90" x2="498.80" y2="164.00" stroke="#aaa" stroke-width="1.4" />
<line x1="677.40" y1="15.90" x2="677.40" y2="164.00" stroke="#777" stroke-width="1" />
<g clip-path="url(#cc)">
<path d="M498.80,164.00 L501.06,163.94 L503.32,163.88 L505.58,163.81 L507.84,163.75 L510.10,163.69 L512.36,163.63 L514.63,163.57 L516.89,163.51 L519.15,163.45 L521.41,163.39 L523.67,163.33 L525.93,163.27 L528.19,163.21 L530.45,163.15 L532.71,163.09 L534.97,163.04 L537.23,162.98 L539.49,162.92 L541.75,162.87 L544.02,162.81 L546.28,162.76 L548.54,162.71 L550.80,162.66 L553.06,162.60 L555.32,162.55 L557.58,162.50 L559.84,162.46 L562.10,162.41 L564.36,162.36 L566.62,162.31 L568.88,162.27 L571.14,162.22 L573.41,162.18 L575.67,162.14 L577.93,162.10 L580.19,162.06 L582.45,162.02 L584.71,161.98 L586.97,161.94 L589.23,161.90 L591.49,161.87 L593.75,161.83 L596.01,161.80 L598.27,161.76 L600.53,161.73 L602.79,161.70 L605.06,161.67 L607.32,161.64 L609.58,161.61 L611.84,161.58 L614.10,161.55 L616.36,161.53 L618.62,161.50 L620.88,161.47 L623.14,161.45 L625.40,161.42 L627.66,161.40 L629.92,161.38 L632.18,161.36 L634.45,161.34 L636.71,161.32 L638.97,161.30 L641.23,161.28 L643.49,161.26 L645.75,161.24 L648.01,161.22 L650.27,161.20 L652.53,161.19 L654.79,161.17 L657.05,161.16 L659.31,161.14 L661.57,161.13 L663.84,161.11 L666.10,161.10 L668.36,161.09 L670.62,161.07 L672.88,161.06 L675.14,161.05 L677.40,161.04" fill="none" stroke="#ff0000" stroke-width="1.3" stroke-linejoin="round" stroke-linecap="round" />
<path d="M498.80,164.00 L501.06,163.72 L503.32,163.43 L505.58,163.15 L507.84,162.87 L510.10,162.59 L512.36,162.31 L514.63,162.03 L516.89,161.76 L519.15,161.48 L521.41,161.21 L523.67,160.93 L525.93,160.66 L528.19,160.40 L530.45,160.13 L532.71,159.87 L534.97,159.61 L537.23,159.35 L539.49,159.10 L541.75,158.85 L544.02,158.60 L546.28,158.36 L548.54,158.12 L550.80,157.88 L553.06,157.65 L555.32,157.42 L557.58,157.19 L559.84,156.97 L562.10,156.75 L564.36,156.54 L566.62,156.33 L568.88,156.13 L571.14,155.92 L573.41,155.73 L575.67,155.53 L577.93,155.34 L580.19,155.16 L582.45,154.98 L584.71,154.80 L586.97,154.63 L589.23,154.46 L591.49,154.29 L593.75,154.13 L596.01,153.98 L598.27,153.82 L600.53,153.68 L602.79,153.53 L605.06,153.39 L607.32,153.25 L609.58,153.12 L611.84,152.99 L614.10,152.86 L616.36,152.74 L618.62,152.62 L620.88,152.51 L623.14,152.39 L625.40,152.28 L627.66,152.18 L629.92,152.07 L632.18,151.97 L634.45,151.88 L636.71,151.78 L638.97,151.69 L641.23,151.60 L643.49,151.52 L645.75,151.44 L648.01,151.36 L650.27,151.28 L652.53,151.20 L654.79,151.13 L657.05,151.06 L659.31,150.99 L661.57,150.93 L663.84,150.86 L666.10,150.80 L668.36,150.74 L670.62,150.68 L672.88,150.63 L675.14,150.57 L677.40,150.52" fill="none" stroke="#e60c0c" stroke-width="1.3" stroke-linejoin="round" stroke-linecap="round" />
<path d="M498.80,164.00 L501.06,163.36 L503.32,162.73 L505.58,162.10 L507.84,161.46 L510.10,160.83 L512.36,160.20 L514.63,159.57 L516.89,158.94 L519.15,158.32 L521.41,157.70 L523.67,157.08 L525.93,156.47 L528.19,155.85 L530.45,155.25 L532.71,154.64 L534.97,154.05 L537.23,153.45 L539.49,152.86 L541.75,152.28 L544.02,151.70 L546.28,151.13 L548.54,150.56 L550.80,150.00 L553.06,149.44 L555.32,148.90 L557.58,148.35 L559.84,147.82 L562.10,147.29 L564.36,146.77 L566.62,146.25 L568.88,145.74 L571.14,145.24 L573.41,144.75 L575.67,144.27 L577.93,143.79 L580.19,143.32 L582.45,142.85 L584.71,142.40 L586.97,141.95 L589.23,141.51 L591.49,141.08 L593.75,140.65 L596.01,140.24 L598.27,139.83 L600.53,139.43 L602.79,139.03 L605.06,138.65 L607.32,138.27 L609.58,137.90 L611.84,137.54 L614.10,137.18 L616.36,136.83 L618.62,136.49 L620.88,136.16 L623.14,135.83 L625.40,135.51 L627.66,135.20 L629.92,134.89 L632.18,134.60 L634.45,134.31 L636.71,134.02 L638.97,133.74 L641.23,133.47 L643.49,133.21 L645.75,132.95 L648.01,132.70 L650.27,132.45 L652.53,132.21 L654.79,131.98 L657.05,131.75 L659.31,131.52 L661.57,131.31 L663.84,131.10 L666.10,130.89 L668.36,130.69 L670.62,130.49 L672.88,130.30 L675.14,130.12 L677.40,129.94" fill="none" stroke="#c81010" stroke-width="1.3" stroke-linejoin="round" stroke-linecap="round" />
<path d="M498.80,164.00 L501.06,162.91 L503.32,161.82 L505.58,160.73 L507.84,159.64 L510.10,158.55 L512.36,157.47 L514.63,156.39 L516.89,155.31 L519.15,154.23 L521.41,153.16 L523.67,152.09 L525.93,151.03 L528.19,149.98 L530.45,148.93 L532.71,147.88 L534.97,146.84 L537.23,145.81 L539.49,144.79 L541.75,143.78 L544.02,142.77 L546.28,141.77 L548.54,140.78 L550.80,139.80 L553.06,138.82 L555.32,137.86 L557.58,136.91 L559.84,135.96 L562.10,135.03 L564.36,134.11 L566.62,133.20 L568.88,132.30 L571.14,131.41 L573.41,130.53 L575.67,129.66 L577.93,128.81 L580.19,127.96 L582.45,127.13 L584.71,126.31 L586.97,125.50 L589.23,124.71 L591.49,123.92 L593.75,123.15 L596.01,122.39 L598.27,121.64 L600.53,120.91 L602.79,120.19 L605.06,119.48 L607.32,118.78 L609.58,118.09 L611.84,117.42 L614.10,116.76 L616.36,116.11 L618.62,115.47 L620.88,114.84 L623.14,114.23 L625.40,113.63 L627.66,113.04 L629.92,112.46 L632.18,111.89 L634.45,111.34 L636.71,110.79 L638.97,110.26 L641.23,109.74 L643.49,109.23 L645.75,108.73 L648.01,108.24 L650.27,107.76 L652.53,107.29 L654.79,106.83 L657.05,106.39 L659.31,105.95 L661.57,105.52 L663.84,105.10 L666.10,104.69 L668.36,104.29 L670.62,103.90 L672.88,103.52 L675.14,103.15 L677.40,102.79" fill="none" stroke="#a01010" stroke-width="1.3" stroke-linejoin="round" stroke-linecap="round" />
<path d="M498.80,164.00 L501.06,162.37 L503.32,160.74 L505.58,159.12 L507.84,157.50 L510.10,155.88 L512.36,154.26 L514.63,152.65 L516.89,151.04 L519.15,149.44 L521.41,147.84 L523.67,146.26 L525.93,144.68 L528.19,143.11 L530.45,141.54 L532.71,139.99 L534.97,138.45 L537.23,136.92 L539.49,135.40 L541.75,133.90 L544.02,132.40 L546.28,130.92 L548.54,129.46 L550.80,128.01 L553.06,126.57 L555.32,125.15 L557.58,123.74 L559.84,122.35 L562.10,120.98 L564.36,119.62 L566.62,118.28 L568.88,116.96 L571.14,115.65 L573.41,114.36 L575.67,113.09 L577.93,111.84 L580.19,110.61 L582.45,109.39 L584.71,108.20 L586.97,107.02 L589.23,105.86 L591.49,104.72 L593.75,103.60 L596.01,102.50 L598.27,101.42 L600.53,100.35 L602.79,99.31 L605.06,98.28 L607.32,97.28 L609.58,96.29 L611.84,95.32 L614.10,94.37 L616.36,93.44 L618.62,92.52 L620.88,91.63 L623.14,90.75 L625.40,89.89 L627.66,89.05 L629.92,88.23 L632.18,87.42 L634.45,86.64 L636.71,85.86 L638.97,85.11 L641.23,84.37 L643.49,83.65 L645.75,82.95 L648.01,82.26 L650.27,81.58 L652.53,80.93 L654.79,80.28 L657.05,79.66 L659.31,79.04 L661.57,78.44 L663.84,77.86 L666.10,77.29 L668.36,76.74 L670.62,76.19 L672.88,75.67 L675.14,75.15 L677.40,74.65" fill="none" stroke="#7a1212" stroke-width="1.3" stroke-linejoin="round" stroke-linecap="round" />
<path d="M498.80,164.00 L501.06,161.80 L503.32,159.60 L505.58,157.40 L507.84,155.21 L510.10,153.02 L512.36,150.84 L514.63,148.66 L516.89,146.49 L519.15,144.34 L521.41,142.19 L523.67,140.05 L525.93,137.93 L528.19,135.82 L530.45,133.72 L532.71,131.64 L534.97,129.58 L537.23,127.54 L539.49,125.51 L541.75,123.50 L544.02,121.51 L546.28,119.55 L548.54,117.60 L550.80,115.68 L553.06,113.78 L555.32,111.90 L557.58,110.05 L559.84,108.22 L562.10,106.42 L564.36,104.64 L566.62,102.89 L568.88,101.16 L571.14,99.46 L573.41,97.79 L575.67,96.15 L577.93,94.53 L580.19,92.94 L582.45,91.38 L584.71,89.84 L586.97,88.34 L589.23,86.86 L591.49,85.41 L593.75,83.99 L596.01,82.59 L598.27,81.23 L600.53,79.89 L602.79,78.58 L605.06,77.29 L607.32,76.04 L609.58,74.81 L611.84,73.61 L614.10,72.43 L616.36,71.28 L618.62,70.16 L620.88,69.06 L623.14,67.99 L625.40,66.94 L627.66,65.92 L629.92,64.92 L632.18,63.95 L634.45,63.00 L636.71,62.07 L638.97,61.17 L641.23,60.29 L643.49,59.43 L645.75,58.60 L648.01,57.78 L650.27,56.99 L652.53,56.22 L654.79,55.47 L657.05,54.73 L659.31,54.02 L661.57,53.33 L663.84,52.65 L666.10,52.00 L668.36,51.36 L670.62,50.74 L672.88,50.13 L675.14,49.55 L677.40,48.98" fill="none" stroke="#5a0f0f" stroke-width="1.3" stroke-linejoin="round" stroke-linecap="round" />
<path d="M498.80,164.00 L501.06,161.30 L503.32,158.60 L505.58,155.90 L507.84,153.21 L510.10,150.52 L512.36,147.84 L514.63,145.17 L516.89,142.51 L519.15,139.86 L521.41,137.23 L523.67,134.60 L525.93,132.00 L528.19,129.41 L530.45,126.84 L532.71,124.28 L534.97,121.75 L537.23,119.24 L539.49,116.75 L541.75,114.29 L544.02,111.85 L546.28,109.43 L548.54,107.05 L550.80,104.69 L553.06,102.35 L555.32,100.05 L557.58,97.77 L559.84,95.53 L562.10,93.32 L564.36,91.14 L566.62,88.99 L568.88,86.87 L571.14,84.78 L573.41,82.73 L575.67,80.71 L577.93,78.73 L580.19,76.78 L582.45,74.86 L584.71,72.98 L586.97,71.13 L589.23,69.31 L591.49,67.53 L593.75,65.79 L596.01,64.08 L598.27,62.40 L600.53,60.76 L602.79,59.15 L605.06,57.57 L607.32,56.03 L609.58,54.52 L611.84,53.05 L614.10,51.60 L616.36,50.19 L618.62,48.81 L620.88,47.47 L623.14,46.15 L625.40,44.86 L627.66,43.61 L629.92,42.39 L632.18,41.19 L634.45,40.03 L636.71,38.89 L638.97,37.78 L641.23,36.70 L643.49,35.65 L645.75,34.62 L648.01,33.62 L650.27,32.65 L652.53,31.70 L654.79,30.78 L657.05,29.88 L659.31,29.00 L661.57,28.15 L663.84,27.32 L666.10,26.52 L668.36,25.73 L670.62,24.97 L672.88,24.23 L675.14,23.51 L677.40,22.81" fill="none" stroke="#3d0808" stroke-width="1.3" stroke-linejoin="round" stroke-linecap="round" />
</g>
<line x1="498.80" y1="164.00" x2="498.80" y2="166.20" stroke="#666" stroke-width="0.9" />
<line x1="498.80" y1="15.90" x2="498.80" y2="13.70" stroke="#666" stroke-width="0.9" />
<line x1="528.57" y1="164.00" x2="528.57" y2="165.30" stroke="#666" stroke-width="0.9" />
<line x1="528.57" y1="15.90" x2="528.57" y2="14.60" stroke="#666" stroke-width="0.9" />
<line x1="558.33" y1="164.00" x2="558.33" y2="166.20" stroke="#666" stroke-width="0.9" />
<line x1="558.33" y1="15.90" x2="558.33" y2="13.70" stroke="#666" stroke-width="0.9" />
<line x1="588.10" y1="164.00" x2="588.10" y2="165.30" stroke="#666" stroke-width="0.9" />
<line x1="588.10" y1="15.90" x2="588.10" y2="14.60" stroke="#666" stroke-width="0.9" />
<line x1="617.87" y1="164.00" x2="617.87" y2="166.20" stroke="#666" stroke-width="0.9" />
<line x1="617.87" y1="15.90" x2="617.87" y2="13.70" stroke="#666" stroke-width="0.9" />
<line x1="647.63" y1="164.00" x2="647.63" y2="165.30" stroke="#666" stroke-width="0.9" />
<line x1="647.63" y1="15.90" x2="647.63" y2="14.60" stroke="#666" stroke-width="0.9" />
<line x1="677.40" y1="164.00" x2="677.40" y2="166.20" stroke="#666" stroke-width="0.9" />
<line x1="677.40" y1="15.90" x2="677.40" y2="13.70" stroke="#666" stroke-width="0.9" />
<line x1="498.80" y1="164.00" x2="496.60" y2="164.00" stroke="#555" stroke-width="0.9" />
<line x1="677.40" y1="164.00" x2="679.16" y2="164.00" stroke="#555" stroke-width="0.8" />
<line x1="498.80" y1="151.66" x2="497.50" y2="151.66" stroke="#555" stroke-width="0.9" />
<line x1="677.40" y1="151.66" x2="678.44" y2="151.66" stroke="#555" stroke-width="0.8" />
<line x1="498.80" y1="139.32" x2="496.60" y2="139.32" stroke="#555" stroke-width="0.9" />
<line x1="677.40" y1="139.32" x2="679.16" y2="139.32" stroke="#555" stroke-width="0.8" />
<line x1="498.80" y1="126.97" x2="497.50" y2="126.97" stroke="#555" stroke-width="0.9" />
<line x1="677.40" y1="126.97" x2="678.44" y2="126.97" stroke="#555" stroke-width="0.8" />
<line x1="498.80" y1="114.63" x2="496.60" y2="114.63" stroke="#555" stroke-width="0.9" />
<line x1="677.40" y1="114.63" x2="679.16" y2="114.63" stroke="#555" stroke-width="0.8" />
<line x1="498.80" y1="102.29" x2="497.50" y2="102.29" stroke="#555" stroke-width="0.9" />
<line x1="677.40" y1="102.29" x2="678.44" y2="102.29" stroke="#555" stroke-width="0.8" />
<line x1="498.80" y1="89.95" x2="496.60" y2="89.95" stroke="#555" stroke-width="0.9" />
<line x1="677.40" y1="89.95" x2="679.16" y2="89.95" stroke="#555" stroke-width="0.8" />
<line x1="498.80" y1="77.61" x2="497.50" y2="77.61" stroke="#555" stroke-width="0.9" />
<line x1="677.40" y1="77.61" x2="678.44" y2="77.61" stroke="#555" stroke-width="0.8" />
<line x1="498.80" y1="65.27" x2="496.60" y2="65.27" stroke="#555" stroke-width="0.9" />
<line x1="677.40" y1="65.27" x2="679.16" y2="65.27" stroke="#555" stroke-width="0.8" />
<line x1="498.80" y1="52.92" x2="497.50" y2="52.92" stroke="#555" stroke-width="0.9" />
<line x1="677.40" y1="52.92" x2="678.44" y2="52.92" stroke="#555" stroke-width="0.8" />
<line x1="498.80" y1="40.58" x2="496.60" y2="40.58" stroke="#555" stroke-width="0.9" />
<line x1="677.40" y1="40.58" x2="679.16" y2="40.58" stroke="#555" stroke-width="0.8" />
<line x1="498.80" y1="28.24" x2="497.50" y2="28.24" stroke="#555" stroke-width="0.9" />
<line x1="677.40" y1="28.24" x2="678.44" y2="28.24" stroke="#555" stroke-width="0.8" />
<line x1="498.80" y1="15.90" x2="496.60" y2="15.90" stroke="#555" stroke-width="0.9" />
<line x1="677.40" y1="15.90" x2="679.16" y2="15.90" stroke="#555" stroke-width="0.8" />
<text x="494.60" y="142.92" font-size="10" text-anchor="end" fill="#000" stroke="#000" stroke-width="0.2" >50</text>
<text x="494.60" y="118.23" font-size="10" text-anchor="end" fill="#000" stroke="#000" stroke-width="0.2" >100</text>
<text x="494.60" y="93.55" font-size="10" text-anchor="end" fill="#000" stroke="#000" stroke-width="0.2" >150</text>
<text x="494.60" y="68.87" font-size="10" text-anchor="end" fill="#000" stroke="#000" stroke-width="0.2" >200</text>
<text x="494.60" y="44.18" font-size="10" text-anchor="end" fill="#000" stroke="#000" stroke-width="0.2" >250</text>
<text x="494.60" y="19.50" font-size="10" text-anchor="end" fill="#000" stroke="#000" stroke-width="0.2" >300</text>
<text x="498.80" y="177.20" font-size="10" text-anchor="middle" fill="#000" stroke="#000" stroke-width="0.2" >0.0</text>
<text x="558.33" y="177.20" font-size="10" text-anchor="middle" fill="#000" stroke="#000" stroke-width="0.2" >0.5</text>
<text x="617.87" y="177.20" font-size="10" text-anchor="middle" fill="#000" stroke="#000" stroke-width="0.2" >1.0</text>
<text x="677.40" y="177.20" font-size="10" text-anchor="middle" fill="#000" stroke="#000" stroke-width="0.2" >1.5</text>
<text x="475.20" y="86.50" font-size="12.8" text-anchor="middle" fill="#000" stroke="#000" stroke-width="0.2" transform="rotate(-90 475.2 86.5)" >I<tspan font-size="8.6" dy="2.6">DS</tspan><tspan dy="-2.6"> (µA/µm)</tspan></text>
<text x="569.20" y="189.90" font-size="12" text-anchor="start" fill="#000" stroke="#000" stroke-width="0.2" >V<tspan font-size="8" dy="2.6">DS</tspan><tspan dy="-2.6"> (V)</tspan></text>
<text x="533.10" y="38.00" font-size="7" text-anchor="start" fill="#000" stroke="#000" stroke-width="0.2" >V<tspan font-size="5" dy="1.6">GS</tspan><tspan dy="-1.6"> varies from</tspan></text>
<text x="533.10" y="48.20" font-size="7" text-anchor="start" fill="#000" stroke="#000" stroke-width="0.2" >4.5 V to -1 V in</text>
<text x="533.10" y="57.70" font-size="7" text-anchor="start" fill="#000" stroke="#000" stroke-width="0.2" >steps of 0.5 V</text>
<line x1="580.50" y1="55.70" x2="636.91" y2="153.73" stroke="#1f1fff" stroke-width="1.1" />
<path d="M638.90,157.20 L634.50,153.96 L637.00,153.91 L638.31,151.77 Z" fill="#1f1fff"/>
<text x="0.50" y="212.70" font-size="12.5" text-anchor="start" fill="#000" stroke="#000" stroke-width="0.2" >d)</text>
<defs><clipPath id="cd"><rect x="36.2" y="212.5" width="175.3" height="140.0"/></clipPath></defs>
<g clip-path="url(#cd)">
<path d="M36.20,342.70 L37.16,345.50 L38.11,348.30" fill="none" stroke="#5a0a0a" stroke-width="1.1" stroke-linejoin="round" stroke-linecap="round" />
<path d="M43.21,352.50 L44.17,352.50" fill="none" stroke="#5a0a0a" stroke-width="1.1" stroke-linejoin="round" stroke-linecap="round" />
<path d="M52.14,352.50 L53.09,348.30 L54.05,342.70 L55.00,355.30 L55.96,341.30 L56.60,351.10 L57.55,344.10 L58.19,355.30" fill="none" stroke="#4a0606" stroke-width="1.2" stroke-linejoin="round" stroke-linecap="round" />
<path d="M60.42,351.10 L61.70,342.70" fill="none" stroke="#5a0a0a" stroke-width="1.1" stroke-linejoin="round" stroke-linecap="round" />
<path d="M67.44,355.30 L68.39,346.90 L69.35,352.50 L70.30,344.10 L71.26,353.90 L72.53,346.90 L74.13,338.50 L75.40,345.50 L76.36,341.30 L77.63,349.70 L78.59,342.70 L79.87,351.10 L81.46,345.50 L83.05,352.50 L84.65,346.90 L85.60,355.30" fill="none" stroke="#3a0505" stroke-width="1.2" stroke-linejoin="round" stroke-linecap="round" />
<path d="M92.93,351.10 L94.53,344.10" fill="none" stroke="#ff5050" stroke-width="1" stroke-linejoin="round" stroke-linecap="round" />
<path d="M99.95,349.70 L100.58,342.70" fill="none" stroke="#e01010" stroke-width="1" stroke-linejoin="round" stroke-linecap="round" />
<path d="M86.08,358.10 L86.11,357.63 L86.13,357.16 L86.16,356.69 L86.18,356.22 L86.21,355.75 L86.23,355.28 L86.26,354.81 L86.28,354.34 L86.31,353.87 L86.34,353.40 L86.37,352.93 L86.40,352.46 L86.44,351.99 L86.47,351.52 L86.51,351.05 L86.55,350.58 L86.58,350.11 L86.62,349.64 L86.66,349.18 L86.70,348.71 L86.74,348.24 L86.79,347.77 L86.83,347.30 L86.87,346.83 L86.92,346.36 L86.96,345.89 L87.01,345.42 L87.05,344.95 L87.10,344.48 L87.15,344.01 L87.20,343.54 L87.24,343.07 L87.29,342.60 L87.35,342.13 L87.40,341.66 L87.45,341.19 L87.50,340.72 L87.56,340.25 L87.61,339.78 L87.66,339.31 L87.72,338.84 L87.78,338.37 L87.83,337.90 L87.89,337.43 L87.95,336.96 L88.01,336.49 L88.07,336.02 L88.13,335.55 L88.19,335.08 L88.25,334.61 L88.31,334.14 L88.38,333.67 L88.44,333.20 L88.50,332.73 L88.57,332.26 L88.63,331.80 L88.70,331.33 L88.77,330.86 L88.84,330.39 L88.90,329.92 L88.97,329.45 L89.04,328.98 L89.11,328.51 L89.18,328.04 L89.25,327.57 L89.32,327.10 L89.40,326.63 L89.47,326.16 L89.54,325.69 L89.61,325.22 L89.69,324.75 L89.76,324.28 L89.84,323.81 L89.92,323.34 L89.99,322.87 L90.07,322.40 L90.15,321.93 L90.23,321.46 L90.30,320.99 L90.38,320.52 L90.46,320.05 L90.54,319.58 L90.62,319.11 L90.70,318.64 L90.79,318.17 L90.87,317.70 L90.95,317.23 L91.03,316.76 L91.12,316.29 L91.20,315.82 L91.29,315.35 L91.37,314.88 L91.46,314.42 L91.54,313.95 L91.63,313.48 L91.72,313.01 L91.80,312.54 L91.89,312.07 L91.98,311.60 L92.07,311.13 L92.16,310.66 L92.25,310.19 L92.34,309.72 L92.43,309.25 L92.53,308.78 L92.63,308.31 L92.73,307.84 L92.84,307.37 L92.95,306.90 L93.06,306.43 L93.18,305.96 L93.30,305.49 L93.42,305.02 L93.54,304.55 L93.66,304.08 L93.79,303.61 L93.92,303.14 L94.05,302.67 L94.18,302.20 L94.31,301.73 L94.44,301.26 L94.58,300.79 L94.71,300.32 L94.85,299.85 L94.98,299.38 L95.12,298.91 L95.26,298.44 L95.40,297.97 L95.53,297.50 L95.67,297.04 L95.81,296.57 L95.94,296.10 L96.08,295.63 L96.22,295.16 L96.35,294.69 L96.48,294.22 L96.62,293.75 L96.75,293.28 L96.88,292.81 L97.01,292.34 L97.14,291.87 L97.27,291.40 L97.40,290.93 L97.54,290.46 L97.67,289.99 L97.81,289.52 L97.95,289.05 L98.10,288.58 L98.24,288.11 L98.39,287.64 L98.55,287.17 L98.70,286.70 L98.87,286.23 L99.03,285.76 L99.21,285.29 L99.38,284.82 L99.56,284.35 L99.75,283.88 L99.94,283.41 L100.13,282.94 L100.32,282.47 L100.52,282.00 L100.72,281.53 L100.93,281.06 L101.14,280.59 L101.35,280.12 L101.57,279.66 L101.79,279.19 L102.02,278.72 L102.26,278.25 L102.49,277.78 L102.74,277.31 L102.99,276.84 L103.24,276.37 L103.50,275.90 L103.77,275.43 L104.04,274.96 L104.32,274.49 L104.60,274.02 L104.89,273.55 L105.19,273.08 L105.49,272.61 L105.80,272.14 L106.12,271.67 L106.44,271.20 L106.78,270.73 L107.14,270.26 L107.55,269.79 L108.00,269.32 L108.46,268.85 L108.94,268.38 L109.40,267.91 L109.85,267.44 L110.30,266.97 L110.74,266.50 L111.18,266.03 L111.62,265.56 L112.05,265.09 L112.50,264.62 L112.94,264.15 L113.39,263.68 L113.85,263.21 L114.31,262.74 L114.78,262.28 L115.27,261.81 L115.76,261.34 L116.27,260.87 L116.80,260.40 L117.34,259.93 L117.90,259.46 L118.48,258.99 L119.08,258.52 L119.72,258.05 L120.43,257.58 L121.19,257.11 L121.98,256.64 L122.80,256.17 L123.62,255.70 L124.43,255.23 L125.21,254.76 L125.97,254.29 L126.72,253.82 L127.48,253.35 L128.25,252.88 L129.05,252.41 L129.90,251.94 L130.80,251.47 L131.76,251.00 L132.77,250.53 L133.83,250.06 L134.94,249.59 L136.10,249.12 L137.29,248.65 L138.52,248.18 L139.79,247.71 L141.09,247.24 L142.42,246.77 L143.77,246.30 L145.15,245.83 L146.57,245.36 L148.06,244.90 L149.63,244.43 L151.31,243.96 L153.10,243.49 L155.04,243.02 L157.13,242.55 L159.41,242.08 L161.88,241.61 L164.60,241.14 L167.57,240.67 L170.85,240.20 L174.75,239.73 L179.28,239.26 L184.30,238.79 L189.66,238.32 L195.21,237.85 L200.80,237.38 L206.28,236.91 L211.50,236.44" fill="none" stroke="#ff9090" stroke-width="0.9" stroke-linejoin="round" stroke-linecap="round" />
<path d="M95.55,345.50 L95.58,345.08 L95.62,344.66 L95.65,344.24 L95.68,343.82 L95.72,343.39 L95.75,342.97 L95.79,342.55 L95.83,342.13 L95.86,341.71 L95.90,341.29 L95.94,340.87 L95.97,340.45 L96.01,340.03 L96.05,339.60 L96.09,339.18 L96.13,338.76 L96.17,338.34 L96.21,337.92 L96.25,337.50 L96.29,337.08 L96.33,336.66 L96.37,336.24 L96.41,335.82 L96.46,335.39 L96.50,334.97 L96.54,334.55 L96.59,334.13 L96.63,333.71 L96.68,333.29 L96.72,332.87 L96.77,332.45 L96.81,332.03 L96.86,331.60 L96.91,331.18 L96.95,330.76 L97.00,330.34 L97.05,329.92 L97.10,329.50 L97.15,329.08 L97.20,328.66 L97.25,328.24 L97.30,327.81 L97.36,327.39 L97.41,326.97 L97.46,326.55 L97.51,326.13 L97.57,325.71 L97.62,325.29 L97.68,324.87 L97.73,324.45 L97.79,324.02 L97.85,323.60 L97.91,323.18 L97.96,322.76 L98.02,322.34 L98.08,321.92 L98.14,321.50 L98.20,321.08 L98.26,320.66 L98.33,320.24 L98.39,319.81 L98.46,319.39 L98.53,318.97 L98.60,318.55 L98.67,318.13 L98.74,317.71 L98.82,317.29 L98.90,316.87 L98.98,316.45 L99.06,316.02 L99.14,315.60 L99.23,315.18 L99.31,314.76 L99.40,314.34 L99.49,313.92 L99.58,313.50 L99.67,313.08 L99.76,312.66 L99.86,312.23 L99.95,311.81 L100.05,311.39 L100.15,310.97 L100.25,310.55 L100.34,310.13 L100.44,309.71 L100.55,309.29 L100.65,308.87 L100.76,308.44 L100.87,308.02 L100.98,307.60 L101.09,307.18 L101.20,306.76 L101.32,306.34 L101.43,305.92 L101.55,305.50 L101.67,305.08 L101.79,304.66 L101.91,304.23 L102.03,303.81 L102.16,303.39 L102.28,302.97 L102.40,302.55 L102.53,302.13 L102.65,301.71 L102.78,301.29 L102.90,300.87 L103.03,300.44 L103.15,300.02 L103.28,299.60 L103.40,299.18 L103.53,298.76 L103.65,298.34 L103.78,297.92 L103.90,297.50 L104.03,297.08 L104.16,296.65 L104.28,296.23 L104.41,295.81 L104.53,295.39 L104.66,294.97 L104.79,294.55 L104.91,294.13 L105.04,293.71 L105.17,293.29 L105.29,292.86 L105.42,292.44 L105.55,292.02 L105.68,291.60 L105.81,291.18 L105.94,290.76 L106.07,290.34 L106.20,289.92 L106.34,289.50 L106.48,289.08 L106.62,288.65 L106.76,288.23 L106.91,287.81 L107.05,287.39 L107.20,286.97 L107.36,286.55 L107.51,286.13 L107.67,285.71 L107.84,285.29 L108.00,284.86 L108.17,284.44 L108.34,284.02 L108.52,283.60 L108.70,283.18 L108.88,282.76 L109.06,282.34 L109.25,281.92 L109.44,281.50 L109.64,281.07 L109.83,280.65 L110.04,280.23 L110.24,279.81 L110.45,279.39 L110.66,278.97 L110.88,278.55 L111.10,278.13 L111.32,277.71 L111.55,277.28 L111.78,276.86 L112.02,276.44 L112.26,276.02 L112.51,275.60 L112.75,275.18 L113.01,274.76 L113.27,274.34 L113.53,273.92 L113.80,273.50 L114.07,273.07 L114.35,272.65 L114.63,272.23 L114.92,271.81 L115.21,271.39 L115.51,270.97 L115.81,270.55 L116.14,270.13 L116.50,269.71 L116.87,269.28 L117.26,268.86 L117.65,268.44 L118.04,268.02 L118.43,267.60 L118.83,267.18 L119.22,266.76 L119.61,266.34 L120.01,265.92 L120.41,265.49 L120.81,265.07 L121.21,264.65 L121.62,264.23 L122.04,263.81 L122.46,263.39 L122.88,262.97 L123.31,262.55 L123.75,262.13 L124.19,261.70 L124.65,261.28 L125.11,260.86 L125.59,260.44 L126.08,260.02 L126.59,259.60 L127.11,259.18 L127.64,258.76 L128.19,258.34 L128.76,257.92 L129.37,257.49 L130.00,257.07 L130.65,256.65 L131.32,256.23 L131.98,255.81 L132.64,255.39 L133.30,254.97 L133.93,254.55 L134.55,254.13 L135.17,253.70 L135.81,253.28 L136.47,252.86 L137.19,252.44 L137.96,252.02 L138.78,251.60 L139.67,251.18 L140.60,250.76 L141.59,250.34 L142.62,249.91 L143.69,249.49 L144.80,249.07 L145.94,248.65 L147.11,248.23 L148.30,247.81 L149.56,247.39 L150.87,246.97 L152.22,246.55 L153.61,246.12 L155.02,245.70 L156.46,245.28 L157.92,244.86 L159.41,244.44 L160.95,244.02 L162.55,243.60 L164.23,243.18 L165.98,242.76 L167.82,242.34 L169.77,241.91 L171.85,241.49 L174.06,241.07 L176.42,240.65 L178.96,240.23 L181.83,239.81 L185.06,239.39 L188.56,238.97 L192.28,238.55 L196.13,238.12 L200.06,237.70 L203.97,237.28 L207.81,236.86 L211.50,236.44" fill="none" stroke="#ff4040" stroke-width="1.1" stroke-linejoin="round" stroke-linecap="round" />
<path d="M95.95,358.10 L95.97,357.63 L96.00,357.16 L96.03,356.69 L96.05,356.22 L96.08,355.75 L96.10,355.28 L96.13,354.81 L96.15,354.34 L96.18,353.87 L96.21,353.40 L96.24,352.93 L96.27,352.46 L96.30,351.99 L96.33,351.52 L96.37,351.05 L96.40,350.58 L96.43,350.11 L96.46,349.64 L96.50,349.18 L96.53,348.71 L96.57,348.24 L96.60,347.77 L96.63,347.30 L96.67,346.83 L96.70,346.36 L96.74,345.89 L96.78,345.42 L96.81,344.95 L96.85,344.48 L96.89,344.01 L96.92,343.54 L96.96,343.07 L97.00,342.60 L97.04,342.13 L97.08,341.66 L97.12,341.19 L97.16,340.72 L97.20,340.25 L97.24,339.78 L97.28,339.31 L97.32,338.84 L97.36,338.37 L97.41,337.90 L97.45,337.43 L97.49,336.96 L97.54,336.49 L97.58,336.02 L97.63,335.55 L97.67,335.08 L97.72,334.61 L97.77,334.14 L97.81,333.67 L97.86,333.20 L97.91,332.73 L97.96,332.26 L98.01,331.80 L98.06,331.33 L98.11,330.86 L98.16,330.39 L98.22,329.92 L98.27,329.45 L98.32,328.98 L98.38,328.51 L98.43,328.04 L98.49,327.57 L98.54,327.10 L98.60,326.63 L98.66,326.16 L98.72,325.69 L98.78,325.22 L98.84,324.75 L98.90,324.28 L98.96,323.81 L99.02,323.34 L99.09,322.87 L99.15,322.40 L99.21,321.93 L99.28,321.46 L99.35,320.99 L99.41,320.52 L99.48,320.05 L99.55,319.58 L99.63,319.11 L99.71,318.64 L99.79,318.17 L99.87,317.70 L99.96,317.23 L100.04,316.76 L100.13,316.29 L100.23,315.82 L100.32,315.35 L100.42,314.88 L100.52,314.42 L100.62,313.95 L100.72,313.48 L100.83,313.01 L100.93,312.54 L101.04,312.07 L101.15,311.60 L101.26,311.13 L101.37,310.66 L101.48,310.19 L101.60,309.72 L101.72,309.25 L101.84,308.78 L101.96,308.31 L102.08,307.84 L102.21,307.37 L102.34,306.90 L102.47,306.43 L102.60,305.96 L102.73,305.49 L102.87,305.02 L103.00,304.55 L103.14,304.08 L103.28,303.61 L103.42,303.14 L103.56,302.67 L103.70,302.20 L103.84,301.73 L103.98,301.26 L104.12,300.79 L104.25,300.32 L104.39,299.85 L104.53,299.38 L104.67,298.91 L104.81,298.44 L104.96,297.97 L105.10,297.50 L105.24,297.04 L105.38,296.57 L105.52,296.10 L105.66,295.63 L105.80,295.16 L105.95,294.69 L106.09,294.22 L106.23,293.75 L106.37,293.28 L106.51,292.81 L106.66,292.34 L106.80,291.87 L106.95,291.40 L107.10,290.93 L107.25,290.46 L107.40,289.99 L107.55,289.52 L107.71,289.05 L107.86,288.58 L108.03,288.11 L108.19,287.64 L108.36,287.17 L108.53,286.70 L108.70,286.23 L108.88,285.76 L109.07,285.29 L109.25,284.82 L109.44,284.35 L109.64,283.88 L109.84,283.41 L110.04,282.94 L110.24,282.47 L110.45,282.00 L110.67,281.53 L110.89,281.06 L111.11,280.59 L111.34,280.12 L111.57,279.66 L111.80,279.19 L112.04,278.72 L112.29,278.25 L112.54,277.78 L112.80,277.31 L113.06,276.84 L113.32,276.37 L113.59,275.90 L113.87,275.43 L114.15,274.96 L114.44,274.49 L114.73,274.02 L115.03,273.55 L115.34,273.08 L115.65,272.61 L115.96,272.14 L116.29,271.67 L116.61,271.20 L116.95,270.73 L117.30,270.26 L117.69,269.79 L118.10,269.32 L118.53,268.85 L118.96,268.38 L119.40,267.91 L119.83,267.44 L120.26,266.97 L120.70,266.50 L121.14,266.03 L121.59,265.56 L122.04,265.09 L122.49,264.62 L122.95,264.15 L123.42,263.68 L123.89,263.21 L124.37,262.74 L124.85,262.28 L125.35,261.81 L125.85,261.34 L126.37,260.87 L126.91,260.40 L127.46,259.93 L128.03,259.46 L128.61,258.99 L129.21,258.52 L129.84,258.05 L130.51,257.58 L131.20,257.11 L131.92,256.64 L132.65,256.17 L133.38,255.70 L134.10,255.23 L134.81,254.76 L135.50,254.29 L136.18,253.82 L136.88,253.35 L137.61,252.88 L138.41,252.41 L139.28,251.94 L140.22,251.47 L141.24,251.00 L142.32,250.53 L143.45,250.06 L144.65,249.59 L145.89,249.12 L147.17,248.65 L148.48,248.18 L149.84,247.71 L151.27,247.24 L152.78,246.77 L154.34,246.30 L155.93,245.83 L157.55,245.36 L159.19,244.90 L160.87,244.43 L162.60,243.96 L164.41,243.49 L166.29,243.02 L168.28,242.55 L170.38,242.08 L172.61,241.61 L175.01,241.14 L177.57,240.67 L180.35,240.20 L183.52,239.73 L187.08,239.26 L190.94,238.79 L195.01,238.32 L199.19,237.85 L203.39,237.38 L207.53,236.91 L211.50,236.44" fill="none" stroke="#f01010" stroke-width="1.1" stroke-linejoin="round" stroke-linecap="round" />
<path d="M101.97,346.90 L102.00,346.47 L102.03,346.05 L102.05,345.62 L102.08,345.19 L102.11,344.77 L102.14,344.34 L102.17,343.91 L102.20,343.49 L102.22,343.06 L102.25,342.64 L102.28,342.21 L102.31,341.78 L102.34,341.36 L102.37,340.93 L102.40,340.50 L102.43,340.08 L102.46,339.65 L102.49,339.22 L102.52,338.80 L102.55,338.37 L102.59,337.94 L102.62,337.52 L102.65,337.09 L102.68,336.66 L102.72,336.24 L102.75,335.81 L102.78,335.38 L102.82,334.96 L102.85,334.53 L102.89,334.11 L102.92,333.68 L102.96,333.25 L103.00,332.83 L103.03,332.40 L103.07,331.97 L103.11,331.55 L103.15,331.12 L103.19,330.69 L103.23,330.27 L103.27,329.84 L103.31,329.41 L103.35,328.99 L103.39,328.56 L103.43,328.13 L103.48,327.71 L103.52,327.28 L103.56,326.86 L103.61,326.43 L103.66,326.00 L103.70,325.58 L103.75,325.15 L103.80,324.72 L103.84,324.30 L103.89,323.87 L103.94,323.44 L103.99,323.02 L104.04,322.59 L104.10,322.16 L104.15,321.74 L104.20,321.31 L104.26,320.88 L104.31,320.46 L104.37,320.03 L104.43,319.60 L104.50,319.18 L104.57,318.75 L104.64,318.33 L104.71,317.90 L104.79,317.47 L104.87,317.05 L104.95,316.62 L105.04,316.19 L105.13,315.77 L105.22,315.34 L105.31,314.91 L105.41,314.49 L105.51,314.06 L105.61,313.63 L105.71,313.21 L105.82,312.78 L105.92,312.35 L106.03,311.93 L106.14,311.50 L106.25,311.08 L106.36,310.65 L106.48,310.22 L106.59,309.80 L106.71,309.37 L106.83,308.94 L106.95,308.52 L107.07,308.09 L107.20,307.66 L107.32,307.24 L107.45,306.81 L107.58,306.38 L107.70,305.96 L107.83,305.53 L107.96,305.10 L108.09,304.68 L108.22,304.25 L108.35,303.82 L108.49,303.40 L108.62,302.97 L108.75,302.55 L108.88,302.12 L109.01,301.69 L109.14,301.27 L109.27,300.84 L109.40,300.41 L109.53,299.99 L109.65,299.56 L109.78,299.13 L109.91,298.71 L110.04,298.28 L110.17,297.85 L110.30,297.43 L110.43,297.00 L110.56,296.57 L110.69,296.15 L110.82,295.72 L110.95,295.30 L111.09,294.87 L111.22,294.44 L111.35,294.02 L111.49,293.59 L111.62,293.16 L111.76,292.74 L111.89,292.31 L112.03,291.88 L112.17,291.46 L112.31,291.03 L112.46,290.60 L112.60,290.18 L112.74,289.75 L112.89,289.32 L113.04,288.90 L113.19,288.47 L113.35,288.04 L113.50,287.62 L113.66,287.19 L113.83,286.77 L113.99,286.34 L114.16,285.91 L114.33,285.49 L114.50,285.06 L114.68,284.63 L114.86,284.21 L115.04,283.78 L115.22,283.35 L115.41,282.93 L115.61,282.50 L115.80,282.07 L116.00,281.65 L116.20,281.22 L116.41,280.79 L116.62,280.37 L116.84,279.94 L117.05,279.52 L117.28,279.09 L117.50,278.66 L117.73,278.24 L117.96,277.81 L118.20,277.38 L118.44,276.96 L118.69,276.53 L118.94,276.10 L119.19,275.68 L119.45,275.25 L119.71,274.82 L119.98,274.40 L120.25,273.97 L120.53,273.54 L120.81,273.12 L121.09,272.69 L121.38,272.26 L121.67,271.84 L121.97,271.41 L122.28,270.99 L122.58,270.56 L122.91,270.13 L123.25,269.71 L123.61,269.28 L123.98,268.85 L124.35,268.43 L124.73,268.00 L125.12,267.57 L125.50,267.15 L125.90,266.72 L126.30,266.29 L126.70,265.87 L127.11,265.44 L127.52,265.01 L127.94,264.59 L128.37,264.16 L128.80,263.74 L129.23,263.31 L129.67,262.88 L130.12,262.46 L130.57,262.03 L131.03,261.60 L131.49,261.18 L131.97,260.75 L132.47,260.32 L132.97,259.90 L133.50,259.47 L134.03,259.04 L134.57,258.62 L135.13,258.19 L135.71,257.76 L136.30,257.34 L136.91,256.91 L137.52,256.48 L138.14,256.06 L138.76,255.63 L139.38,255.21 L139.98,254.78 L140.57,254.35 L141.15,253.93 L141.75,253.50 L142.38,253.07 L143.07,252.65 L143.83,252.22 L144.65,251.79 L145.55,251.37 L146.51,250.94 L147.53,250.51 L148.60,250.09 L149.72,249.66 L150.88,249.23 L152.07,248.81 L153.30,248.38 L154.55,247.96 L155.86,247.53 L157.26,247.10 L158.74,246.68 L160.26,246.25 L161.82,245.82 L163.38,245.40 L164.95,244.97 L166.52,244.54 L168.11,244.12 L169.74,243.69 L171.40,243.26 L173.11,242.84 L174.89,242.41 L176.73,241.98 L178.66,241.56 L180.67,241.13 L182.80,240.70 L185.05,240.28 L187.51,239.85 L190.20,239.43 L193.07,239.00 L196.07,238.57 L199.17,238.15 L202.30,237.72 L205.43,237.29 L208.51,236.87 L211.50,236.44" fill="none" stroke="#d40808" stroke-width="1.1" stroke-linejoin="round" stroke-linecap="round" />
<path d="M102.73,358.10 L102.76,357.63 L102.79,357.16 L102.81,356.69 L102.84,356.22 L102.86,355.75 L102.89,355.28 L102.91,354.81 L102.94,354.34 L102.97,353.87 L103.00,353.40 L103.02,352.93 L103.05,352.46 L103.08,351.99 L103.11,351.52 L103.14,351.05 L103.17,350.58 L103.20,350.11 L103.23,349.64 L103.26,349.18 L103.29,348.71 L103.32,348.24 L103.35,347.77 L103.38,347.30 L103.40,346.83 L103.43,346.36 L103.46,345.89 L103.49,345.42 L103.52,344.95 L103.55,344.48 L103.58,344.01 L103.61,343.54 L103.64,343.07 L103.67,342.60 L103.70,342.13 L103.73,341.66 L103.76,341.19 L103.79,340.72 L103.82,340.25 L103.86,339.78 L103.89,339.31 L103.92,338.84 L103.95,338.37 L103.99,337.90 L104.02,337.43 L104.05,336.96 L104.09,336.49 L104.12,336.02 L104.16,335.55 L104.19,335.08 L104.23,334.61 L104.26,334.14 L104.30,333.67 L104.34,333.20 L104.38,332.73 L104.42,332.26 L104.46,331.80 L104.49,331.33 L104.54,330.86 L104.58,330.39 L104.62,329.92 L104.66,329.45 L104.70,328.98 L104.75,328.51 L104.79,328.04 L104.84,327.57 L104.88,327.10 L104.93,326.63 L104.98,326.16 L105.03,325.69 L105.08,325.22 L105.13,324.75 L105.18,324.28 L105.23,323.81 L105.28,323.34 L105.34,322.87 L105.39,322.40 L105.45,321.93 L105.50,321.46 L105.56,320.99 L105.62,320.52 L105.68,320.05 L105.75,319.58 L105.82,319.11 L105.90,318.64 L105.98,318.17 L106.06,317.70 L106.15,317.23 L106.24,316.76 L106.33,316.29 L106.43,315.82 L106.53,315.35 L106.64,314.88 L106.75,314.42 L106.86,313.95 L106.97,313.48 L107.09,313.01 L107.21,312.54 L107.33,312.07 L107.45,311.60 L107.58,311.13 L107.71,310.66 L107.83,310.19 L107.97,309.72 L108.10,309.25 L108.23,308.78 L108.37,308.31 L108.51,307.84 L108.65,307.37 L108.79,306.90 L108.93,306.43 L109.08,305.96 L109.22,305.49 L109.37,305.02 L109.51,304.55 L109.66,304.08 L109.80,303.61 L109.95,303.14 L110.10,302.67 L110.24,302.20 L110.39,301.73 L110.53,301.26 L110.67,300.79 L110.82,300.32 L110.96,299.85 L111.10,299.38 L111.24,298.91 L111.38,298.44 L111.53,297.97 L111.67,297.50 L111.81,297.04 L111.96,296.57 L112.10,296.10 L112.25,295.63 L112.40,295.16 L112.54,294.69 L112.69,294.22 L112.84,293.75 L112.99,293.28 L113.14,292.81 L113.29,292.34 L113.45,291.87 L113.60,291.40 L113.76,290.93 L113.92,290.46 L114.08,289.99 L114.24,289.52 L114.41,289.05 L114.58,288.58 L114.75,288.11 L114.92,287.64 L115.10,287.17 L115.28,286.70 L115.47,286.23 L115.65,285.76 L115.84,285.29 L116.04,284.82 L116.24,284.35 L116.44,283.88 L116.64,283.41 L116.85,282.94 L117.07,282.47 L117.28,282.00 L117.51,281.53 L117.73,281.06 L117.96,280.59 L118.20,280.12 L118.44,279.66 L118.68,279.19 L118.93,278.72 L119.19,278.25 L119.45,277.78 L119.71,277.31 L119.98,276.84 L120.25,276.37 L120.53,275.90 L120.82,275.43 L121.11,274.96 L121.40,274.49 L121.70,274.02 L122.00,273.55 L122.31,273.08 L122.63,272.61 L122.95,272.14 L123.27,271.67 L123.61,271.20 L123.94,270.73 L124.29,270.26 L124.66,269.79 L125.05,269.32 L125.44,268.85 L125.85,268.38 L126.27,267.91 L126.69,267.44 L127.12,266.97 L127.55,266.50 L128.00,266.03 L128.45,265.56 L128.90,265.09 L129.36,264.62 L129.83,264.15 L130.31,263.68 L130.79,263.21 L131.28,262.74 L131.78,262.28 L132.28,261.81 L132.79,261.34 L133.31,260.87 L133.85,260.40 L134.41,259.93 L134.99,259.46 L135.58,258.99 L136.18,258.52 L136.80,258.05 L137.43,257.58 L138.09,257.11 L138.75,256.64 L139.42,256.17 L140.09,255.70 L140.75,255.23 L141.41,254.76 L142.04,254.29 L142.68,253.82 L143.34,253.35 L144.05,252.88 L144.84,252.41 L145.73,251.94 L146.70,251.47 L147.75,251.00 L148.88,250.53 L150.07,250.06 L151.32,249.59 L152.62,249.12 L153.96,248.65 L155.33,248.18 L156.75,247.71 L158.27,247.24 L159.90,246.77 L161.60,246.30 L163.34,245.83 L165.10,245.36 L166.84,244.90 L168.60,244.43 L170.37,243.96 L172.18,243.49 L174.03,243.02 L175.94,242.55 L177.92,242.08 L179.99,241.61 L182.16,241.14 L184.45,240.67 L186.88,240.20 L189.55,239.73 L192.44,239.26 L195.51,238.79 L198.68,238.32 L201.92,237.85 L205.18,237.38 L208.39,236.91 L211.50,236.44" fill="none" stroke="#b00808" stroke-width="1.1" stroke-linejoin="round" stroke-linecap="round" />
<path d="M104.99,358.10 L105.02,357.63 L105.05,357.16 L105.07,356.69 L105.10,356.22 L105.12,355.75 L105.15,355.28 L105.18,354.81 L105.20,354.34 L105.23,353.87 L105.26,353.40 L105.29,352.93 L105.32,352.46 L105.34,351.99 L105.37,351.52 L105.40,351.05 L105.43,350.58 L105.46,350.11 L105.49,349.64 L105.51,349.18 L105.54,348.71 L105.57,348.24 L105.60,347.77 L105.62,347.30 L105.65,346.83 L105.68,346.36 L105.70,345.89 L105.73,345.42 L105.76,344.95 L105.79,344.48 L105.81,344.01 L105.84,343.54 L105.87,343.07 L105.89,342.60 L105.92,342.13 L105.95,341.66 L105.98,341.19 L106.01,340.72 L106.03,340.25 L106.06,339.78 L106.09,339.31 L106.12,338.84 L106.15,338.37 L106.18,337.90 L106.21,337.43 L106.24,336.96 L106.27,336.49 L106.30,336.02 L106.33,335.55 L106.37,335.08 L106.40,334.61 L106.43,334.14 L106.46,333.67 L106.50,333.20 L106.53,332.73 L106.57,332.26 L106.60,331.80 L106.64,331.33 L106.68,330.86 L106.71,330.39 L106.75,329.92 L106.79,329.45 L106.83,328.98 L106.87,328.51 L106.91,328.04 L106.95,327.57 L107.00,327.10 L107.04,326.63 L107.09,326.16 L107.13,325.69 L107.18,325.22 L107.22,324.75 L107.27,324.28 L107.32,323.81 L107.37,323.34 L107.42,322.87 L107.47,322.40 L107.53,321.93 L107.58,321.46 L107.63,320.99 L107.69,320.52 L107.75,320.05 L107.81,319.58 L107.88,319.11 L107.96,318.64 L108.04,318.17 L108.12,317.70 L108.21,317.23 L108.30,316.76 L108.40,316.29 L108.50,315.82 L108.60,315.35 L108.71,314.88 L108.82,314.42 L108.94,313.95 L109.06,313.48 L109.18,313.01 L109.30,312.54 L109.42,312.07 L109.55,311.60 L109.68,311.13 L109.82,310.66 L109.95,310.19 L110.09,309.72 L110.23,309.25 L110.37,308.78 L110.51,308.31 L110.65,307.84 L110.80,307.37 L110.94,306.90 L111.09,306.43 L111.24,305.96 L111.39,305.49 L111.53,305.02 L111.68,304.55 L111.83,304.08 L111.98,303.61 L112.13,303.14 L112.28,302.67 L112.42,302.20 L112.57,301.73 L112.72,301.26 L112.86,300.79 L113.00,300.32 L113.15,299.85 L113.29,299.38 L113.43,298.91 L113.57,298.44 L113.72,297.97 L113.86,297.50 L114.01,297.04 L114.15,296.57 L114.30,296.10 L114.45,295.63 L114.59,295.16 L114.74,294.69 L114.89,294.22 L115.04,293.75 L115.20,293.28 L115.35,292.81 L115.50,292.34 L115.66,291.87 L115.82,291.40 L115.98,290.93 L116.14,290.46 L116.31,289.99 L116.48,289.52 L116.65,289.05 L116.82,288.58 L116.99,288.11 L117.17,287.64 L117.35,287.17 L117.53,286.70 L117.72,286.23 L117.91,285.76 L118.10,285.29 L118.30,284.82 L118.50,284.35 L118.70,283.88 L118.91,283.41 L119.12,282.94 L119.34,282.47 L119.56,282.00 L119.78,281.53 L120.01,281.06 L120.25,280.59 L120.49,280.12 L120.73,279.66 L120.98,279.19 L121.23,278.72 L121.49,278.25 L121.75,277.78 L122.02,277.31 L122.29,276.84 L122.57,276.37 L122.85,275.90 L123.13,275.43 L123.42,274.96 L123.72,274.49 L124.02,274.02 L124.33,273.55 L124.64,273.08 L124.96,272.61 L125.28,272.14 L125.60,271.67 L125.94,271.20 L126.27,270.73 L126.62,270.26 L126.99,269.79 L127.36,269.32 L127.75,268.85 L128.15,268.38 L128.56,267.91 L128.98,267.44 L129.40,266.97 L129.84,266.50 L130.28,266.03 L130.73,265.56 L131.19,265.09 L131.65,264.62 L132.13,264.15 L132.61,263.68 L133.09,263.21 L133.58,262.74 L134.08,262.28 L134.59,261.81 L135.10,261.34 L135.63,260.87 L136.17,260.40 L136.73,259.93 L137.31,259.46 L137.90,258.99 L138.50,258.52 L139.12,258.05 L139.74,257.58 L140.38,257.11 L141.03,256.64 L141.67,256.17 L142.32,255.70 L142.97,255.23 L143.61,254.76 L144.23,254.29 L144.84,253.82 L145.49,253.35 L146.20,252.88 L146.99,252.41 L147.88,251.94 L148.86,251.47 L149.93,251.00 L151.07,250.53 L152.27,250.06 L153.54,249.59 L154.86,249.12 L156.22,248.65 L157.62,248.18 L159.05,247.71 L160.61,247.24 L162.28,246.77 L164.03,246.30 L165.82,245.83 L167.61,245.36 L169.39,244.90 L171.17,244.43 L172.96,243.96 L174.77,243.49 L176.61,243.02 L178.49,242.55 L180.44,242.08 L182.45,241.61 L184.55,241.14 L186.74,240.67 L189.06,240.20 L191.56,239.73 L194.23,239.26 L197.03,238.79 L199.91,238.32 L202.84,237.85 L205.77,237.38 L208.67,236.91 L211.50,236.44" fill="none" stroke="#850808" stroke-width="1.1" stroke-linejoin="round" stroke-linecap="round" />
<path d="M106.64,358.10 L106.67,357.63 L106.69,357.16 L106.72,356.69 L106.74,356.22 L106.77,355.75 L106.80,355.28 L106.82,354.81 L106.85,354.34 L106.88,353.87 L106.90,353.40 L106.93,352.93 L106.96,352.46 L106.99,351.99 L107.02,351.52 L107.04,351.05 L107.07,350.58 L107.10,350.11 L107.13,349.64 L107.15,349.18 L107.18,348.71 L107.21,348.24 L107.23,347.77 L107.26,347.30 L107.28,346.83 L107.31,346.36 L107.33,345.89 L107.36,345.42 L107.38,344.95 L107.41,344.48 L107.44,344.01 L107.46,343.54 L107.49,343.07 L107.51,342.60 L107.54,342.13 L107.56,341.66 L107.59,341.19 L107.61,340.72 L107.64,340.25 L107.67,339.78 L107.69,339.31 L107.72,338.84 L107.75,338.37 L107.77,337.90 L107.80,337.43 L107.83,336.96 L107.86,336.49 L107.89,336.02 L107.92,335.55 L107.95,335.08 L107.98,334.61 L108.01,334.14 L108.04,333.67 L108.07,333.20 L108.10,332.73 L108.13,332.26 L108.17,331.80 L108.20,331.33 L108.23,330.86 L108.27,330.39 L108.30,329.92 L108.34,329.45 L108.38,328.98 L108.42,328.51 L108.45,328.04 L108.49,327.57 L108.53,327.10 L108.58,326.63 L108.62,326.16 L108.66,325.69 L108.70,325.22 L108.75,324.75 L108.79,324.28 L108.84,323.81 L108.89,323.34 L108.94,322.87 L108.99,322.40 L109.04,321.93 L109.09,321.46 L109.14,320.99 L109.20,320.52 L109.25,320.05 L109.32,319.58 L109.39,319.11 L109.46,318.64 L109.54,318.17 L109.62,317.70 L109.71,317.23 L109.81,316.76 L109.90,316.29 L110.00,315.82 L110.11,315.35 L110.22,314.88 L110.33,314.42 L110.45,313.95 L110.57,313.48 L110.69,313.01 L110.82,312.54 L110.95,312.07 L111.08,311.60 L111.22,311.13 L111.35,310.66 L111.49,310.19 L111.63,309.72 L111.77,309.25 L111.92,308.78 L112.06,308.31 L112.21,307.84 L112.36,307.37 L112.51,306.90 L112.66,306.43 L112.81,305.96 L112.96,305.49 L113.11,305.02 L113.26,304.55 L113.41,304.08 L113.56,303.61 L113.71,303.14 L113.86,302.67 L114.01,302.20 L114.16,301.73 L114.30,301.26 L114.45,300.79 L114.59,300.32 L114.74,299.85 L114.88,299.38 L115.02,298.91 L115.17,298.44 L115.31,297.97 L115.46,297.50 L115.60,297.04 L115.75,296.57 L115.89,296.10 L116.04,295.63 L116.19,295.16 L116.34,294.69 L116.49,294.22 L116.65,293.75 L116.80,293.28 L116.96,292.81 L117.11,292.34 L117.27,291.87 L117.43,291.40 L117.60,290.93 L117.76,290.46 L117.93,289.99 L118.10,289.52 L118.27,289.05 L118.45,288.58 L118.62,288.11 L118.80,287.64 L118.99,287.17 L119.17,286.70 L119.36,286.23 L119.55,285.76 L119.75,285.29 L119.94,284.82 L120.15,284.35 L120.35,283.88 L120.56,283.41 L120.77,282.94 L120.99,282.47 L121.22,282.00 L121.44,281.53 L121.67,281.06 L121.91,280.59 L122.15,280.12 L122.40,279.66 L122.65,279.19 L122.90,278.72 L123.16,278.25 L123.42,277.78 L123.69,277.31 L123.97,276.84 L124.25,276.37 L124.53,275.90 L124.82,275.43 L125.11,274.96 L125.41,274.49 L125.71,274.02 L126.02,273.55 L126.33,273.08 L126.65,272.61 L126.97,272.14 L127.30,271.67 L127.63,271.20 L127.97,270.73 L128.32,270.26 L128.68,269.79 L129.05,269.32 L129.43,268.85 L129.82,268.38 L130.23,267.91 L130.64,267.44 L131.06,266.97 L131.50,266.50 L131.94,266.03 L132.39,265.56 L132.85,265.09 L133.32,264.62 L133.80,264.15 L134.28,263.68 L134.77,263.21 L135.26,262.74 L135.76,262.28 L136.27,261.81 L136.78,261.34 L137.31,260.87 L137.85,260.40 L138.42,259.93 L139.00,259.46 L139.59,258.99 L140.19,258.52 L140.80,258.05 L141.42,257.58 L142.05,257.11 L142.68,256.64 L143.31,256.17 L143.95,255.70 L144.58,255.23 L145.21,254.76 L145.81,254.29 L146.42,253.82 L147.06,253.35 L147.76,252.88 L148.55,252.41 L149.44,251.94 L150.43,251.47 L151.51,251.00 L152.66,250.53 L153.88,250.06 L155.16,249.59 L156.49,249.12 L157.87,248.65 L159.28,248.18 L160.73,247.71 L162.31,247.24 L164.01,246.77 L165.79,246.30 L167.61,245.83 L169.44,245.36 L171.25,244.90 L173.04,244.43 L174.84,243.96 L176.65,243.49 L178.48,243.02 L180.35,242.55 L182.27,242.08 L184.24,241.61 L186.28,241.14 L188.41,240.67 L190.64,240.20 L193.03,239.73 L195.53,239.26 L198.13,238.79 L200.80,238.32 L203.50,237.85 L206.20,237.38 L208.88,236.91 L211.50,236.44" fill="none" stroke="#4a0606" stroke-width="1.1" stroke-linejoin="round" stroke-linecap="round" />
</g>
<line x1="36.20" y1="212.50" x2="211.50" y2="212.50" stroke="#888" stroke-width="1.1" />
<line x1="36.20" y1="212.50" x2="36.20" y2="352.50" stroke="#888" stroke-width="1.2" />
<line x1="211.50" y1="212.50" x2="211.50" y2="352.50" stroke="#555" stroke-width="1" />
<line x1="36.20" y1="352.50" x2="211.50" y2="352.50" stroke="#666" stroke-width="1.2" />
<line x1="36.20" y1="352.50" x2="36.20" y2="354.70" stroke="#555" stroke-width="0.9" />
<line x1="36.20" y1="212.50" x2="36.20" y2="210.30" stroke="#555" stroke-width="0.9" />
<line x1="52.14" y1="352.50" x2="52.14" y2="353.80" stroke="#555" stroke-width="0.9" />
<line x1="52.14" y1="212.50" x2="52.14" y2="211.20" stroke="#555" stroke-width="0.9" />
<line x1="68.07" y1="352.50" x2="68.07" y2="354.70" stroke="#555" stroke-width="0.9" />
<line x1="68.07" y1="212.50" x2="68.07" y2="210.30" stroke="#555" stroke-width="0.9" />
<line x1="84.01" y1="352.50" x2="84.01" y2="353.80" stroke="#555" stroke-width="0.9" />
<line x1="84.01" y1="212.50" x2="84.01" y2="211.20" stroke="#555" stroke-width="0.9" />
<line x1="99.95" y1="352.50" x2="99.95" y2="354.70" stroke="#555" stroke-width="0.9" />
<line x1="99.95" y1="212.50" x2="99.95" y2="210.30" stroke="#555" stroke-width="0.9" />
<line x1="115.88" y1="352.50" x2="115.88" y2="353.80" stroke="#555" stroke-width="0.9" />
<line x1="115.88" y1="212.50" x2="115.88" y2="211.20" stroke="#555" stroke-width="0.9" />
<line x1="131.82" y1="352.50" x2="131.82" y2="354.70" stroke="#555" stroke-width="0.9" />
<line x1="131.82" y1="212.50" x2="131.82" y2="210.30" stroke="#555" stroke-width="0.9" />
<line x1="147.75" y1="352.50" x2="147.75" y2="353.80" stroke="#555" stroke-width="0.9" />
<line x1="147.75" y1="212.50" x2="147.75" y2="211.20" stroke="#555" stroke-width="0.9" />
<line x1="163.69" y1="352.50" x2="163.69" y2="354.70" stroke="#555" stroke-width="0.9" />
<line x1="163.69" y1="212.50" x2="163.69" y2="210.30" stroke="#555" stroke-width="0.9" />
<line x1="179.63" y1="352.50" x2="179.63" y2="353.80" stroke="#555" stroke-width="0.9" />
<line x1="179.63" y1="212.50" x2="179.63" y2="211.20" stroke="#555" stroke-width="0.9" />
<line x1="195.56" y1="352.50" x2="195.56" y2="354.70" stroke="#555" stroke-width="0.9" />
<line x1="195.56" y1="212.50" x2="195.56" y2="210.30" stroke="#555" stroke-width="0.9" />
<line x1="211.50" y1="352.50" x2="211.50" y2="353.80" stroke="#555" stroke-width="0.9" />
<line x1="211.50" y1="212.50" x2="211.50" y2="211.20" stroke="#555" stroke-width="0.9" />
<line x1="36.20" y1="352.50" x2="34.00" y2="352.50" stroke="#555" stroke-width="0.9" />
<line x1="211.50" y1="352.50" x2="213.50" y2="352.50" stroke="#555" stroke-width="0.9" />
<line x1="211.50" y1="348.29" x2="212.50" y2="348.29" stroke="#555" stroke-width="0.6" />
<line x1="211.50" y1="345.82" x2="212.50" y2="345.82" stroke="#555" stroke-width="0.6" />
<line x1="211.50" y1="344.07" x2="212.50" y2="344.07" stroke="#555" stroke-width="0.6" />
<line x1="211.50" y1="342.71" x2="212.50" y2="342.71" stroke="#555" stroke-width="0.6" />
<line x1="211.50" y1="341.61" x2="212.50" y2="341.61" stroke="#555" stroke-width="0.6" />
<line x1="211.50" y1="340.67" x2="212.50" y2="340.67" stroke="#555" stroke-width="0.6" />
<line x1="211.50" y1="339.86" x2="212.50" y2="339.86" stroke="#555" stroke-width="0.6" />
<line x1="211.50" y1="339.14" x2="212.50" y2="339.14" stroke="#555" stroke-width="0.6" />
<line x1="36.20" y1="338.50" x2="34.00" y2="338.50" stroke="#555" stroke-width="0.9" />
<line x1="211.50" y1="338.50" x2="213.50" y2="338.50" stroke="#555" stroke-width="0.9" />
<line x1="211.50" y1="334.29" x2="212.50" y2="334.29" stroke="#555" stroke-width="0.6" />
<line x1="211.50" y1="331.82" x2="212.50" y2="331.82" stroke="#555" stroke-width="0.6" />
<line x1="211.50" y1="330.07" x2="212.50" y2="330.07" stroke="#555" stroke-width="0.6" />
<line x1="211.50" y1="328.71" x2="212.50" y2="328.71" stroke="#555" stroke-width="0.6" />
<line x1="211.50" y1="327.61" x2="212.50" y2="327.61" stroke="#555" stroke-width="0.6" />
<line x1="211.50" y1="326.67" x2="212.50" y2="326.67" stroke="#555" stroke-width="0.6" />
<line x1="211.50" y1="325.86" x2="212.50" y2="325.86" stroke="#555" stroke-width="0.6" />
<line x1="211.50" y1="325.14" x2="212.50" y2="325.14" stroke="#555" stroke-width="0.6" />
<line x1="36.20" y1="324.50" x2="34.00" y2="324.50" stroke="#555" stroke-width="0.9" />
<line x1="211.50" y1="324.50" x2="213.50" y2="324.50" stroke="#555" stroke-width="0.9" />
<line x1="211.50" y1="320.29" x2="212.50" y2="320.29" stroke="#555" stroke-width="0.6" />
<line x1="211.50" y1="317.82" x2="212.50" y2="317.82" stroke="#555" stroke-width="0.6" />
<line x1="211.50" y1="316.07" x2="212.50" y2="316.07" stroke="#555" stroke-width="0.6" />
<line x1="211.50" y1="314.71" x2="212.50" y2="314.71" stroke="#555" stroke-width="0.6" />
<line x1="211.50" y1="313.61" x2="212.50" y2="313.61" stroke="#555" stroke-width="0.6" />
<line x1="211.50" y1="312.67" x2="212.50" y2="312.67" stroke="#555" stroke-width="0.6" />
<line x1="211.50" y1="311.86" x2="212.50" y2="311.86" stroke="#555" stroke-width="0.6" />
<line x1="211.50" y1="311.14" x2="212.50" y2="311.14" stroke="#555" stroke-width="0.6" />
<line x1="36.20" y1="310.50" x2="34.00" y2="310.50" stroke="#555" stroke-width="0.9" />
<line x1="211.50" y1="310.50" x2="213.50" y2="310.50" stroke="#555" stroke-width="0.9" />
<line x1="211.50" y1="306.29" x2="212.50" y2="306.29" stroke="#555" stroke-width="0.6" />
<line x1="211.50" y1="303.82" x2="212.50" y2="303.82" stroke="#555" stroke-width="0.6" />
<line x1="211.50" y1="302.07" x2="212.50" y2="302.07" stroke="#555" stroke-width="0.6" />
<line x1="211.50" y1="300.71" x2="212.50" y2="300.71" stroke="#555" stroke-width="0.6" />
<line x1="211.50" y1="299.61" x2="212.50" y2="299.61" stroke="#555" stroke-width="0.6" />
<line x1="211.50" y1="298.67" x2="212.50" y2="298.67" stroke="#555" stroke-width="0.6" />
<line x1="211.50" y1="297.86" x2="212.50" y2="297.86" stroke="#555" stroke-width="0.6" />
<line x1="211.50" y1="297.14" x2="212.50" y2="297.14" stroke="#555" stroke-width="0.6" />
<line x1="36.20" y1="296.50" x2="34.00" y2="296.50" stroke="#555" stroke-width="0.9" />
<line x1="211.50" y1="296.50" x2="213.50" y2="296.50" stroke="#555" stroke-width="0.9" />
<line x1="211.50" y1="292.29" x2="212.50" y2="292.29" stroke="#555" stroke-width="0.6" />
<line x1="211.50" y1="289.82" x2="212.50" y2="289.82" stroke="#555" stroke-width="0.6" />
<line x1="211.50" y1="288.07" x2="212.50" y2="288.07" stroke="#555" stroke-width="0.6" />
<line x1="211.50" y1="286.71" x2="212.50" y2="286.71" stroke="#555" stroke-width="0.6" />
<line x1="211.50" y1="285.61" x2="212.50" y2="285.61" stroke="#555" stroke-width="0.6" />
<line x1="211.50" y1="284.67" x2="212.50" y2="284.67" stroke="#555" stroke-width="0.6" />
<line x1="211.50" y1="283.86" x2="212.50" y2="283.86" stroke="#555" stroke-width="0.6" />
<line x1="211.50" y1="283.14" x2="212.50" y2="283.14" stroke="#555" stroke-width="0.6" />
<line x1="36.20" y1="282.50" x2="34.00" y2="282.50" stroke="#555" stroke-width="0.9" />
<line x1="211.50" y1="282.50" x2="213.50" y2="282.50" stroke="#555" stroke-width="0.9" />
<line x1="211.50" y1="278.29" x2="212.50" y2="278.29" stroke="#555" stroke-width="0.6" />
<line x1="211.50" y1="275.82" x2="212.50" y2="275.82" stroke="#555" stroke-width="0.6" />
<line x1="211.50" y1="274.07" x2="212.50" y2="274.07" stroke="#555" stroke-width="0.6" />
<line x1="211.50" y1="272.71" x2="212.50" y2="272.71" stroke="#555" stroke-width="0.6" />
<line x1="211.50" y1="271.61" x2="212.50" y2="271.61" stroke="#555" stroke-width="0.6" />
<line x1="211.50" y1="270.67" x2="212.50" y2="270.67" stroke="#555" stroke-width="0.6" />
<line x1="211.50" y1="269.86" x2="212.50" y2="269.86" stroke="#555" stroke-width="0.6" />
<line x1="211.50" y1="269.14" x2="212.50" y2="269.14" stroke="#555" stroke-width="0.6" />
<line x1="36.20" y1="268.50" x2="34.00" y2="268.50" stroke="#555" stroke-width="0.9" />
<line x1="211.50" y1="268.50" x2="213.50" y2="268.50" stroke="#555" stroke-width="0.9" />
<line x1="211.50" y1="264.29" x2="212.50" y2="264.29" stroke="#555" stroke-width="0.6" />
<line x1="211.50" y1="261.82" x2="212.50" y2="261.82" stroke="#555" stroke-width="0.6" />
<line x1="211.50" y1="260.07" x2="212.50" y2="260.07" stroke="#555" stroke-width="0.6" />
<line x1="211.50" y1="258.71" x2="212.50" y2="258.71" stroke="#555" stroke-width="0.6" />
<line x1="211.50" y1="257.61" x2="212.50" y2="257.61" stroke="#555" stroke-width="0.6" />
<line x1="211.50" y1="256.67" x2="212.50" y2="256.67" stroke="#555" stroke-width="0.6" />
<line x1="211.50" y1="255.86" x2="212.50" y2="255.86" stroke="#555" stroke-width="0.6" />
<line x1="211.50" y1="255.14" x2="212.50" y2="255.14" stroke="#555" stroke-width="0.6" />
<line x1="36.20" y1="254.50" x2="34.00" y2="254.50" stroke="#555" stroke-width="0.9" />
<line x1="211.50" y1="254.50" x2="213.50" y2="254.50" stroke="#555" stroke-width="0.9" />
<line x1="211.50" y1="250.29" x2="212.50" y2="250.29" stroke="#555" stroke-width="0.6" />
<line x1="211.50" y1="247.82" x2="212.50" y2="247.82" stroke="#555" stroke-width="0.6" />
<line x1="211.50" y1="246.07" x2="212.50" y2="246.07" stroke="#555" stroke-width="0.6" />
<line x1="211.50" y1="244.71" x2="212.50" y2="244.71" stroke="#555" stroke-width="0.6" />
<line x1="211.50" y1="243.61" x2="212.50" y2="243.61" stroke="#555" stroke-width="0.6" />
<line x1="211.50" y1="242.67" x2="212.50" y2="242.67" stroke="#555" stroke-width="0.6" />
<line x1="211.50" y1="241.86" x2="212.50" y2="241.86" stroke="#555" stroke-width="0.6" />
<line x1="211.50" y1="241.14" x2="212.50" y2="241.14" stroke="#555" stroke-width="0.6" />
<line x1="36.20" y1="240.50" x2="34.00" y2="240.50" stroke="#555" stroke-width="0.9" />
<line x1="211.50" y1="240.50" x2="213.50" y2="240.50" stroke="#555" stroke-width="0.9" />
<line x1="211.50" y1="236.29" x2="212.50" y2="236.29" stroke="#555" stroke-width="0.6" />
<line x1="211.50" y1="233.82" x2="212.50" y2="233.82" stroke="#555" stroke-width="0.6" />
<line x1="211.50" y1="232.07" x2="212.50" y2="232.07" stroke="#555" stroke-width="0.6" />
<line x1="211.50" y1="230.71" x2="212.50" y2="230.71" stroke="#555" stroke-width="0.6" />
<line x1="211.50" y1="229.61" x2="212.50" y2="229.61" stroke="#555" stroke-width="0.6" />
<line x1="211.50" y1="228.67" x2="212.50" y2="228.67" stroke="#555" stroke-width="0.6" />
<line x1="211.50" y1="227.86" x2="212.50" y2="227.86" stroke="#555" stroke-width="0.6" />
<line x1="211.50" y1="227.14" x2="212.50" y2="227.14" stroke="#555" stroke-width="0.6" />
<line x1="36.20" y1="226.50" x2="34.00" y2="226.50" stroke="#555" stroke-width="0.9" />
<line x1="211.50" y1="226.50" x2="213.50" y2="226.50" stroke="#555" stroke-width="0.9" />
<line x1="211.50" y1="222.29" x2="212.50" y2="222.29" stroke="#555" stroke-width="0.6" />
<line x1="211.50" y1="219.82" x2="212.50" y2="219.82" stroke="#555" stroke-width="0.6" />
<line x1="211.50" y1="218.07" x2="212.50" y2="218.07" stroke="#555" stroke-width="0.6" />
<line x1="211.50" y1="216.71" x2="212.50" y2="216.71" stroke="#555" stroke-width="0.6" />
<line x1="211.50" y1="215.61" x2="212.50" y2="215.61" stroke="#555" stroke-width="0.6" />
<line x1="211.50" y1="214.67" x2="212.50" y2="214.67" stroke="#555" stroke-width="0.6" />
<line x1="211.50" y1="213.86" x2="212.50" y2="213.86" stroke="#555" stroke-width="0.6" />
<line x1="211.50" y1="213.14" x2="212.50" y2="213.14" stroke="#555" stroke-width="0.6" />
<line x1="36.20" y1="212.50" x2="34.00" y2="212.50" stroke="#555" stroke-width="0.9" />
<line x1="211.50" y1="212.50" x2="213.50" y2="212.50" stroke="#555" stroke-width="0.9" />
<text x="32.40" y="216.90" font-size="10.2" text-anchor="end" fill="#000" stroke="#000" stroke-width="0.2" >10<tspan font-size="7" dy="-4.6">3</tspan></text>
<text x="32.40" y="244.90" font-size="10.2" text-anchor="end" fill="#000" stroke="#000" stroke-width="0.2" >10<tspan font-size="7" dy="-4.6">1</tspan></text>
<text x="32.40" y="272.90" font-size="10.2" text-anchor="end" fill="#000" stroke="#000" stroke-width="0.2" >10<tspan font-size="7" dy="-4.6">-1</tspan></text>
<text x="32.40" y="300.90" font-size="10.2" text-anchor="end" fill="#000" stroke="#000" stroke-width="0.2" >10<tspan font-size="7" dy="-4.6">-3</tspan></text>
<text x="32.40" y="328.90" font-size="10.2" text-anchor="end" fill="#000" stroke="#000" stroke-width="0.2" >10<tspan font-size="7" dy="-4.6">-5</tspan></text>
<text x="32.40" y="356.90" font-size="10.2" text-anchor="end" fill="#000" stroke="#000" stroke-width="0.2" >10<tspan font-size="7" dy="-4.6">-7</tspan></text>
<text x="36.20" y="364.60" font-size="10.5" text-anchor="middle" fill="#000" stroke="#000" stroke-width="0.2" >-1</text>
<text x="68.07" y="364.60" font-size="10.5" text-anchor="middle" fill="#000" stroke="#000" stroke-width="0.2" >0</text>
<text x="99.95" y="364.60" font-size="10.5" text-anchor="middle" fill="#000" stroke="#000" stroke-width="0.2" >1</text>
<text x="131.82" y="364.60" font-size="10.5" text-anchor="middle" fill="#000" stroke="#000" stroke-width="0.2" >2</text>
<text x="163.69" y="364.60" font-size="10.5" text-anchor="middle" fill="#000" stroke="#000" stroke-width="0.2" >3</text>
<text x="195.56" y="364.60" font-size="10.5" text-anchor="middle" fill="#000" stroke="#000" stroke-width="0.2" >4</text>
<text x="8.80" y="279.20" font-size="12.1" text-anchor="middle" fill="#000" stroke="#000" stroke-width="0.2" transform="rotate(-90 8.8 279.2)" >I<tspan font-size="8" dy="2.5">DS</tspan><tspan dy="-2.5"> (µA/µm)</tspan></text>
<text x="104.80" y="376.40" font-size="12.2" text-anchor="start" fill="#000" stroke="#000" stroke-width="0.2" >V<tspan font-size="8" dy="2.6">GS</tspan><tspan dy="-2.6"> (V)</tspan></text>
<line x1="40.00" y1="219.40" x2="57.80" y2="219.40" stroke="#4a0606" stroke-width="1.3" />
<text x="60.10" y="222.10" font-size="7.6" text-anchor="start" fill="#000" stroke="#000" stroke-width="0.2" >80K</text>
<line x1="40.00" y1="229.45" x2="57.80" y2="229.45" stroke="#850808" stroke-width="1.3" />
<text x="60.10" y="232.15" font-size="7.6" text-anchor="start" fill="#000" stroke="#000" stroke-width="0.2" >120K</text>
<line x1="40.00" y1="239.50" x2="57.80" y2="239.50" stroke="#b00808" stroke-width="1.3" />
<text x="60.10" y="242.20" font-size="7.6" text-anchor="start" fill="#000" stroke="#000" stroke-width="0.2" >160K</text>
<line x1="40.00" y1="249.55" x2="57.80" y2="249.55" stroke="#d40808" stroke-width="1.3" />
<text x="60.10" y="252.25" font-size="7.6" text-anchor="start" fill="#000" stroke="#000" stroke-width="0.2" >200K</text>
<line x1="40.00" y1="259.60" x2="57.80" y2="259.60" stroke="#f01010" stroke-width="1.3" />
<text x="60.10" y="262.30" font-size="7.6" text-anchor="start" fill="#000" stroke="#000" stroke-width="0.2" >250K</text>
<line x1="40.00" y1="269.65" x2="57.80" y2="269.65" stroke="#ff4040" stroke-width="1.3" />
<text x="60.10" y="272.35" font-size="7.6" text-anchor="start" fill="#000" stroke="#000" stroke-width="0.2" >300K</text>
<line x1="40.00" y1="279.70" x2="57.80" y2="279.70" stroke="#ff9090" stroke-width="1.3" />
<text x="60.10" y="282.40" font-size="7.6" text-anchor="start" fill="#000" stroke="#000" stroke-width="0.2" >350K</text>
<text x="152.60" y="289.00" font-size="7.8" text-anchor="middle" fill="#1f1fff" stroke="#1f1fff" stroke-width="0.2" >Increasing</text>
<text x="152.80" y="299.00" font-size="7.8" text-anchor="middle" fill="#1f1fff" stroke="#1f1fff" stroke-width="0.2" >temperature</text>
<line x1="130.20" y1="300.20" x2="83.80" y2="300.20" stroke="#1f1fff" stroke-width="1.1" />
<path d="M79.80,300.20 L84.80,298.00 L83.60,300.20 L84.80,302.40 Z" fill="#1f1fff"/>
<text x="209.30" y="326.40" font-size="7.2" text-anchor="end" fill="#000" stroke="#000" stroke-width="0.2" >L<tspan font-size="5" dy="1.6">ch</tspan><tspan dy="-1.6"> = 200 nm</tspan></text>
<text x="208.60" y="337.60" font-size="7.2" text-anchor="end" fill="#000" stroke="#000" stroke-width="0.2" >V<tspan font-size="5" dy="1.6">DS</tspan><tspan dy="-1.6"> = 0.1 V</tspan></text>
<text x="210.30" y="348.40" font-size="6.9" text-anchor="end" fill="#000" stroke="#000" stroke-width="0.2" >3.6 nm aBN + 5.5 nm HfO<tspan font-size="5" dy="1.6">2</tspan></text>
<text x="220.40" y="213.00" font-size="12.5" text-anchor="start" fill="#000" stroke="#000" stroke-width="0.2" >e)</text>
<line x1="257.30" y1="214.10" x2="436.00" y2="214.10" stroke="#888" stroke-width="1" />
<line x1="257.30" y1="214.10" x2="257.30" y2="351.60" stroke="#888" stroke-width="1.2" />
<line x1="436.00" y1="214.10" x2="436.00" y2="351.60" stroke="#888" stroke-width="1" />
<line x1="257.30" y1="351.60" x2="436.00" y2="351.60" stroke="#888" stroke-width="1.2" />
<line x1="257.30" y1="351.60" x2="257.30" y2="353.80" stroke="#555" stroke-width="0.9" />
<line x1="257.30" y1="214.10" x2="257.30" y2="211.90" stroke="#555" stroke-width="0.9" />
<line x1="282.12" y1="351.60" x2="282.12" y2="352.90" stroke="#555" stroke-width="0.9" />
<line x1="282.12" y1="214.10" x2="282.12" y2="212.80" stroke="#555" stroke-width="0.9" />
<line x1="306.94" y1="351.60" x2="306.94" y2="353.80" stroke="#555" stroke-width="0.9" />
<line x1="306.94" y1="214.10" x2="306.94" y2="211.90" stroke="#555" stroke-width="0.9" />
<line x1="331.76" y1="351.60" x2="331.76" y2="352.90" stroke="#555" stroke-width="0.9" />
<line x1="331.76" y1="214.10" x2="331.76" y2="212.80" stroke="#555" stroke-width="0.9" />
<line x1="356.58" y1="351.60" x2="356.58" y2="353.80" stroke="#555" stroke-width="0.9" />
<line x1="356.58" y1="214.10" x2="356.58" y2="211.90" stroke="#555" stroke-width="0.9" />
<line x1="381.40" y1="351.60" x2="381.40" y2="352.90" stroke="#555" stroke-width="0.9" />
<line x1="381.40" y1="214.10" x2="381.40" y2="212.80" stroke="#555" stroke-width="0.9" />
<line x1="406.22" y1="351.60" x2="406.22" y2="353.80" stroke="#555" stroke-width="0.9" />
<line x1="406.22" y1="214.10" x2="406.22" y2="211.90" stroke="#555" stroke-width="0.9" />
<line x1="431.04" y1="351.60" x2="431.04" y2="352.90" stroke="#555" stroke-width="0.9" />
<line x1="431.04" y1="214.10" x2="431.04" y2="212.80" stroke="#555" stroke-width="0.9" />
<line x1="257.30" y1="219.60" x2="256.00" y2="219.60" stroke="#555" stroke-width="0.9" />
<line x1="436.00" y1="219.60" x2="437.30" y2="219.60" stroke="#555" stroke-width="0.9" />
<line x1="257.30" y1="230.60" x2="255.10" y2="230.60" stroke="#555" stroke-width="0.9" />
<line x1="436.00" y1="230.60" x2="438.20" y2="230.60" stroke="#555" stroke-width="0.9" />
<line x1="257.30" y1="241.60" x2="256.00" y2="241.60" stroke="#555" stroke-width="0.9" />
<line x1="436.00" y1="241.60" x2="437.30" y2="241.60" stroke="#555" stroke-width="0.9" />
<line x1="257.30" y1="252.60" x2="255.10" y2="252.60" stroke="#555" stroke-width="0.9" />
<line x1="436.00" y1="252.60" x2="438.20" y2="252.60" stroke="#555" stroke-width="0.9" />
<line x1="257.30" y1="263.60" x2="256.00" y2="263.60" stroke="#555" stroke-width="0.9" />
<line x1="436.00" y1="263.60" x2="437.30" y2="263.60" stroke="#555" stroke-width="0.9" />
<line x1="257.30" y1="274.60" x2="255.10" y2="274.60" stroke="#555" stroke-width="0.9" />
<line x1="436.00" y1="274.60" x2="438.20" y2="274.60" stroke="#555" stroke-width="0.9" />
<line x1="257.30" y1="285.60" x2="256.00" y2="285.60" stroke="#555" stroke-width="0.9" />
<line x1="436.00" y1="285.60" x2="437.30" y2="285.60" stroke="#555" stroke-width="0.9" />
<line x1="257.30" y1="296.60" x2="255.10" y2="296.60" stroke="#555" stroke-width="0.9" />
<line x1="436.00" y1="296.60" x2="438.20" y2="296.60" stroke="#555" stroke-width="0.9" />
<line x1="257.30" y1="307.60" x2="256.00" y2="307.60" stroke="#555" stroke-width="0.9" />
<line x1="436.00" y1="307.60" x2="437.30" y2="307.60" stroke="#555" stroke-width="0.9" />
<line x1="257.30" y1="318.60" x2="255.10" y2="318.60" stroke="#555" stroke-width="0.9" />
<line x1="436.00" y1="318.60" x2="438.20" y2="318.60" stroke="#555" stroke-width="0.9" />
<line x1="257.30" y1="329.60" x2="256.00" y2="329.60" stroke="#555" stroke-width="0.9" />
<line x1="436.00" y1="329.60" x2="437.30" y2="329.60" stroke="#555" stroke-width="0.9" />
<line x1="257.30" y1="340.60" x2="255.10" y2="340.60" stroke="#555" stroke-width="0.9" />
<line x1="436.00" y1="340.60" x2="438.20" y2="340.60" stroke="#555" stroke-width="0.9" />
<line x1="257.30" y1="351.60" x2="256.00" y2="351.60" stroke="#555" stroke-width="0.9" />
<line x1="436.00" y1="351.60" x2="437.30" y2="351.60" stroke="#555" stroke-width="0.9" />
<text x="252.90" y="234.20" font-size="10" text-anchor="end" fill="#000" stroke="#000" stroke-width="0.2" >-20</text>
<text x="252.90" y="256.20" font-size="10" text-anchor="end" fill="#000" stroke="#000" stroke-width="0.2" >-24</text>
<text x="252.90" y="278.20" font-size="10" text-anchor="end" fill="#000" stroke="#000" stroke-width="0.2" >-28</text>
<text x="252.90" y="300.20" font-size="10" text-anchor="end" fill="#000" stroke="#000" stroke-width="0.2" >-32</text>
<text x="252.90" y="322.20" font-size="10" text-anchor="end" fill="#000" stroke="#000" stroke-width="0.2" >-36</text>
<text x="252.90" y="344.20" font-size="10" text-anchor="end" fill="#000" stroke="#000" stroke-width="0.2" >-40</text>
<text x="257.30" y="364.20" font-size="10" text-anchor="middle" fill="#000" stroke="#000" stroke-width="0.2" >0</text>
<text x="306.94" y="364.20" font-size="10" text-anchor="middle" fill="#000" stroke="#000" stroke-width="0.2" >5</text>
<text x="356.58" y="364.20" font-size="10" text-anchor="middle" fill="#000" stroke="#000" stroke-width="0.2" >10</text>
<text x="406.22" y="364.20" font-size="10" text-anchor="middle" fill="#000" stroke="#000" stroke-width="0.2" >15</text>
<text x="233.80" y="277.60" font-size="12.2" text-anchor="middle" fill="#000" stroke="#000" stroke-width="0.2" transform="rotate(-90 233.8 277.6)" >ln(I<tspan font-size="8" dy="2.5">D</tspan><tspan dy="-2.5">/T</tspan><tspan font-size="8" dy="-4.5">2</tspan><tspan dy="4.5">)</tspan></text>
<text x="346.50" y="376.30" font-size="11.8" text-anchor="middle" fill="#000" stroke="#000" stroke-width="0.2" >1000/T</text>
<defs><radialGradient id="eg0" cx="0.38" cy="0.35" r="0.65"><stop offset="0" stop-color="#fff" stop-opacity="0.9"/><stop offset="0.3" stop-color="#6e0000"/><stop offset="1" stop-color="#6e0000" stop-opacity="1"/></radialGradient><radialGradient id="eg1" cx="0.38" cy="0.35" r="0.65"><stop offset="0" stop-color="#fff" stop-opacity="0.9"/><stop offset="0.3" stop-color="#8c0000"/><stop offset="1" stop-color="#8c0000" stop-opacity="1"/></radialGradient><radialGradient id="eg2" cx="0.38" cy="0.35" r="0.65"><stop offset="0" stop-color="#fff" stop-opacity="0.9"/><stop offset="0.3" stop-color="#b00000"/><stop offset="1" stop-color="#b00000" stop-opacity="1"/></radialGradient><radialGradient id="eg3" cx="0.38" cy="0.35" r="0.65"><stop offset="0" stop-color="#fff" stop-opacity="0.9"/><stop offset="0.3" stop-color="#d80000"/><stop offset="1" stop-color="#d80000" stop-opacity="1"/></radialGradient><radialGradient id="eg4" cx="0.38" cy="0.35" r="0.65"><stop offset="0" stop-color="#fff" stop-opacity="0.9"/><stop offset="0.3" stop-color="#ff0000"/><stop offset="1" stop-color="#ff0000" stop-opacity="1"/></radialGradient><radialGradient id="eg5" cx="0.38" cy="0.35" r="0.65"><stop offset="0" stop-color="#fff" stop-opacity="0.9"/><stop offset="0.3" stop-color="#ff5a00"/><stop offset="1" stop-color="#ff5a00" stop-opacity="1"/></radialGradient><radialGradient id="eg6" cx="0.38" cy="0.35" r="0.65"><stop offset="0" stop-color="#fff" stop-opacity="0.9"/><stop offset="0.3" stop-color="#ff9a00"/><stop offset="1" stop-color="#ff9a00" stop-opacity="1"/></radialGradient><radialGradient id="eg7" cx="0.38" cy="0.35" r="0.65"><stop offset="0" stop-color="#fff" stop-opacity="0.9"/><stop offset="0.3" stop-color="#ffd000"/><stop offset="1" stop-color="#ffd000" stop-opacity="1"/></radialGradient><radialGradient id="eg8" cx="0.38" cy="0.35" r="0.65"><stop offset="0" stop-color="#fff" stop-opacity="0.9"/><stop offset="0.3" stop-color="#d8f000"/><stop offset="1" stop-color="#d8f000" stop-opacity="1"/></radialGradient><radialGradient id="eg9" cx="0.38" cy="0.35" r="0.65"><stop offset="0" stop-color="#fff" stop-opacity="0.9"/><stop offset="0.3" stop-color="#80e800"/><stop offset="1" stop-color="#80e800" stop-opacity="1"/></radialGradient><radialGradient id="eg10" cx="0.38" cy="0.35" r="0.65"><stop offset="0" stop-color="#fff" stop-opacity="0.9"/><stop offset="0.3" stop-color="#20e060"/><stop offset="1" stop-color="#20e060" stop-opacity="1"/></radialGradient><radialGradient id="eg11" cx="0.38" cy="0.35" r="0.65"><stop offset="0" stop-color="#fff" stop-opacity="0.9"/><stop offset="0.3" stop-color="#00d0d0"/><stop offset="1" stop-color="#00d0d0" stop-opacity="1"/></radialGradient><radialGradient id="eg12" cx="0.38" cy="0.35" r="0.65"><stop offset="0" stop-color="#fff" stop-opacity="0.9"/><stop offset="0.3" stop-color="#2060ff"/><stop offset="1" stop-color="#2060ff" stop-opacity="1"/></radialGradient><radialGradient id="eg13" cx="0.38" cy="0.35" r="0.65"><stop offset="0" stop-color="#fff" stop-opacity="0.9"/><stop offset="0.3" stop-color="#6a10c8"/><stop offset="1" stop-color="#6a10c8" stop-opacity="1"/></radialGradient></defs>
<line x1="285.66" y1="276.17" x2="319.35" y2="331.25" stroke="#6e0000" stroke-width="1.0" />
<line x1="285.66" y1="271.12" x2="319.35" y2="296.72" stroke="#8c0000" stroke-width="1.0" />
<line x1="285.66" y1="265.24" x2="319.35" y2="277.81" stroke="#b00000" stroke-width="1.0" />
<line x1="285.66" y1="260.61" x2="319.35" y2="267.08" stroke="#d80000" stroke-width="1.0" />
<line x1="285.66" y1="257.17" x2="319.35" y2="259.47" stroke="#ff0000" stroke-width="1.0" />
<line x1="285.66" y1="254.82" x2="319.35" y2="255.59" stroke="#ff5a00" stroke-width="1.0" />
<line x1="285.66" y1="252.64" x2="319.35" y2="252.00" stroke="#ff9a00" stroke-width="1.0" />
<line x1="285.66" y1="250.63" x2="319.35" y2="248.70" stroke="#ffd000" stroke-width="1.0" />
<line x1="285.66" y1="248.82" x2="319.35" y2="245.71" stroke="#d8f000" stroke-width="1.0" />
<line x1="285.66" y1="247.21" x2="319.35" y2="243.07" stroke="#80e800" stroke-width="1.0" />
<line x1="285.66" y1="245.83" x2="319.35" y2="240.79" stroke="#20e060" stroke-width="1.0" />
<line x1="285.66" y1="244.71" x2="319.35" y2="238.93" stroke="#00d0d0" stroke-width="1.0" />
<line x1="285.66" y1="243.88" x2="319.35" y2="237.57" stroke="#2060ff" stroke-width="1.0" />
<line x1="285.66" y1="243.47" x2="319.35" y2="236.90" stroke="#6a10c8" stroke-width="1.0" />
<circle cx="285.66" cy="274.30" r="2.1" fill="url(#eg0)"/>
<circle cx="290.39" cy="288.20" r="2.1" fill="url(#eg0)"/>
<circle cx="297.01" cy="291.00" r="2.1" fill="url(#eg0)"/>
<circle cx="306.94" cy="312.70" r="2.1" fill="url(#eg0)"/>
<circle cx="319.35" cy="330.80" r="2.1" fill="url(#eg0)"/>
<circle cx="340.03" cy="318.70" r="2.1" fill="url(#eg0)"/>
<circle cx="381.40" cy="287.20" r="2.1" fill="url(#eg0)"/>
<circle cx="285.66" cy="274.30" r="2.1" fill="url(#eg1)"/>
<circle cx="290.39" cy="274.80" r="2.1" fill="url(#eg1)"/>
<circle cx="297.01" cy="275.40" r="2.1" fill="url(#eg1)"/>
<circle cx="306.94" cy="286.30" r="2.1" fill="url(#eg1)"/>
<circle cx="319.35" cy="298.80" r="2.1" fill="url(#eg1)"/>
<circle cx="340.03" cy="289.10" r="2.1" fill="url(#eg1)"/>
<circle cx="381.40" cy="268.00" r="2.1" fill="url(#eg1)"/>
<circle cx="285.66" cy="268.00" r="2.1" fill="url(#eg2)"/>
<circle cx="290.39" cy="266.50" r="2.1" fill="url(#eg2)"/>
<circle cx="297.01" cy="266.50" r="2.1" fill="url(#eg2)"/>
<circle cx="306.94" cy="272.20" r="2.1" fill="url(#eg2)"/>
<circle cx="319.35" cy="279.50" r="2.1" fill="url(#eg2)"/>
<circle cx="340.03" cy="272.00" r="2.1" fill="url(#eg2)"/>
<circle cx="381.40" cy="256.70" r="2.1" fill="url(#eg2)"/>
<circle cx="285.66" cy="262.30" r="2.1" fill="url(#eg3)"/>
<circle cx="290.39" cy="261.30" r="2.1" fill="url(#eg3)"/>
<circle cx="297.01" cy="260.70" r="2.1" fill="url(#eg3)"/>
<circle cx="306.94" cy="264.40" r="2.1" fill="url(#eg3)"/>
<circle cx="319.35" cy="268.00" r="2.1" fill="url(#eg3)"/>
<circle cx="340.03" cy="261.40" r="2.1" fill="url(#eg3)"/>
<circle cx="381.40" cy="249.50" r="2.1" fill="url(#eg3)"/>
<circle cx="285.66" cy="259.20" r="2.1" fill="url(#eg4)"/>
<circle cx="290.39" cy="256.60" r="2.1" fill="url(#eg4)"/>
<circle cx="297.01" cy="256.00" r="2.1" fill="url(#eg4)"/>
<circle cx="306.94" cy="258.70" r="2.1" fill="url(#eg4)"/>
<circle cx="319.35" cy="260.20" r="2.1" fill="url(#eg4)"/>
<circle cx="340.03" cy="254.30" r="2.1" fill="url(#eg4)"/>
<circle cx="381.40" cy="244.70" r="2.1" fill="url(#eg4)"/>
<circle cx="285.66" cy="256.52" r="2.1" fill="url(#eg5)"/>
<circle cx="290.39" cy="254.20" r="2.1" fill="url(#eg5)"/>
<circle cx="297.01" cy="253.49" r="2.1" fill="url(#eg5)"/>
<circle cx="306.94" cy="255.25" r="2.1" fill="url(#eg5)"/>
<circle cx="319.35" cy="256.27" r="2.1" fill="url(#eg5)"/>
<circle cx="340.03" cy="250.68" r="2.1" fill="url(#eg5)"/>
<circle cx="381.40" cy="241.97" r="2.1" fill="url(#eg5)"/>
<circle cx="285.66" cy="254.04" r="2.1" fill="url(#eg6)"/>
<circle cx="290.39" cy="251.96" r="2.1" fill="url(#eg6)"/>
<circle cx="297.01" cy="251.17" r="2.1" fill="url(#eg6)"/>
<circle cx="306.94" cy="252.05" r="2.1" fill="url(#eg6)"/>
<circle cx="319.35" cy="252.62" r="2.1" fill="url(#eg6)"/>
<circle cx="340.03" cy="247.31" r="2.1" fill="url(#eg6)"/>
<circle cx="381.40" cy="239.44" r="2.1" fill="url(#eg6)"/>
<circle cx="285.66" cy="251.75" r="2.1" fill="url(#eg7)"/>
<circle cx="290.39" cy="249.92" r="2.1" fill="url(#eg7)"/>
<circle cx="297.01" cy="249.03" r="2.1" fill="url(#eg7)"/>
<circle cx="306.94" cy="249.11" r="2.1" fill="url(#eg7)"/>
<circle cx="319.35" cy="249.27" r="2.1" fill="url(#eg7)"/>
<circle cx="340.03" cy="244.23" r="2.1" fill="url(#eg7)"/>
<circle cx="381.40" cy="237.11" r="2.1" fill="url(#eg7)"/>
<circle cx="285.66" cy="249.69" r="2.1" fill="url(#eg8)"/>
<circle cx="290.39" cy="248.07" r="2.1" fill="url(#eg8)"/>
<circle cx="297.01" cy="247.10" r="2.1" fill="url(#eg8)"/>
<circle cx="306.94" cy="246.45" r="2.1" fill="url(#eg8)"/>
<circle cx="319.35" cy="246.24" r="2.1" fill="url(#eg8)"/>
<circle cx="340.03" cy="241.44" r="2.1" fill="url(#eg8)"/>
<circle cx="381.40" cy="235.01" r="2.1" fill="url(#eg8)"/>
<circle cx="285.66" cy="247.86" r="2.1" fill="url(#eg9)"/>
<circle cx="290.39" cy="246.43" r="2.1" fill="url(#eg9)"/>
<circle cx="297.01" cy="245.39" r="2.1" fill="url(#eg9)"/>
<circle cx="306.94" cy="244.09" r="2.1" fill="url(#eg9)"/>
<circle cx="319.35" cy="243.56" r="2.1" fill="url(#eg9)"/>
<circle cx="340.03" cy="238.96" r="2.1" fill="url(#eg9)"/>
<circle cx="381.40" cy="233.14" r="2.1" fill="url(#eg9)"/>
<circle cx="285.66" cy="246.29" r="2.1" fill="url(#eg10)"/>
<circle cx="290.39" cy="245.01" r="2.1" fill="url(#eg10)"/>
<circle cx="297.01" cy="243.92" r="2.1" fill="url(#eg10)"/>
<circle cx="306.94" cy="242.07" r="2.1" fill="url(#eg10)"/>
<circle cx="319.35" cy="241.25" r="2.1" fill="url(#eg10)"/>
<circle cx="340.03" cy="236.84" r="2.1" fill="url(#eg10)"/>
<circle cx="381.40" cy="231.54" r="2.1" fill="url(#eg10)"/>
<circle cx="285.66" cy="245.01" r="2.1" fill="url(#eg11)"/>
<circle cx="290.39" cy="243.86" r="2.1" fill="url(#eg11)"/>
<circle cx="297.01" cy="242.72" r="2.1" fill="url(#eg11)"/>
<circle cx="306.94" cy="240.41" r="2.1" fill="url(#eg11)"/>
<circle cx="319.35" cy="239.36" r="2.1" fill="url(#eg11)"/>
<circle cx="340.03" cy="235.10" r="2.1" fill="url(#eg11)"/>
<circle cx="381.40" cy="230.23" r="2.1" fill="url(#eg11)"/>
<circle cx="285.66" cy="244.06" r="2.1" fill="url(#eg12)"/>
<circle cx="290.39" cy="243.02" r="2.1" fill="url(#eg12)"/>
<circle cx="297.01" cy="241.83" r="2.1" fill="url(#eg12)"/>
<circle cx="306.94" cy="239.20" r="2.1" fill="url(#eg12)"/>
<circle cx="319.35" cy="237.98" r="2.1" fill="url(#eg12)"/>
<circle cx="340.03" cy="233.83" r="2.1" fill="url(#eg12)"/>
<circle cx="381.40" cy="229.27" r="2.1" fill="url(#eg12)"/>
<circle cx="285.66" cy="243.60" r="2.1" fill="url(#eg13)"/>
<circle cx="290.39" cy="242.60" r="2.1" fill="url(#eg13)"/>
<circle cx="297.01" cy="241.40" r="2.1" fill="url(#eg13)"/>
<circle cx="306.94" cy="238.60" r="2.1" fill="url(#eg13)"/>
<circle cx="319.35" cy="237.30" r="2.1" fill="url(#eg13)"/>
<circle cx="340.03" cy="233.20" r="2.1" fill="url(#eg13)"/>
<circle cx="381.40" cy="228.80" r="2.1" fill="url(#eg13)"/>
<text x="385.30" y="226.30" font-size="9" text-anchor="start" fill="#86108c" stroke="#86108c" stroke-width="0.2" >V<tspan font-size="6.5" dy="2.2">G</tspan><tspan dy="-2.2">= 3.8 V</tspan></text>
<text x="388.30" y="336.20" font-size="9" text-anchor="start" fill="#741010" stroke="#741010" stroke-width="0.2" >V<tspan font-size="6.5" dy="2.2">G</tspan><tspan dy="-2.2">= 1.2 V</tspan></text>
<line x1="388.40" y1="230.60" x2="388.40" y2="320.10" stroke="#222" stroke-width="1.4" />
<path d="M388.40,324.60 L386.20,319.10 L388.40,320.30 L390.60,319.10 Z" fill="#222"/>
<text x="412.50" y="272.00" font-size="7.5" text-anchor="middle" fill="#000" stroke="#000" stroke-width="0.2" >intervals of</text>
<text x="411.50" y="281.50" font-size="7.5" text-anchor="middle" fill="#000" stroke="#000" stroke-width="0.2" >0.2 V</text>
<line x1="284.40" y1="292.10" x2="309.04" y2="330.44" stroke="#ff1010" stroke-width="1.2" />
<path d="M311.20,333.80 L306.65,330.78 L309.15,330.60 L310.35,328.40 Z" fill="#ff1010"/>
<text x="284.40" y="330.20" font-size="9.4" text-anchor="middle" fill="#ff1010" stroke="#ff1010" stroke-width="0.2" >Negative</text>
<text x="284.70" y="342.20" font-size="9.4" text-anchor="middle" fill="#ff1010" stroke="#ff1010" stroke-width="0.2" >slopes</text>
<text x="453.80" y="214.30" font-size="12.5" text-anchor="start" fill="#000" stroke="#000" stroke-width="0.2" >f)</text>
<rect x="491.3" y="211.7" width="30.19999999999999" height="142.10000000000002" fill="#d9d9d9"/>
<line x1="491.3" y1="325.38" x2="521.5" y2="325.38" stroke="#e07070" stroke-width="1.5" stroke-dasharray="5.3,2.2"/>
<line x1="522.7" y1="325.38" x2="677.5" y2="325.38" stroke="#ff0000" stroke-width="1.5" stroke-dasharray="5.3,2.2"/>
<line x1="493.1" y1="240.1" x2="528.0" y2="318.5" stroke="#ff0000" stroke-width="1.5" stroke-dasharray="4.6,2.1"/>
<line x1="491.30" y1="211.70" x2="677.50" y2="211.70" stroke="#888" stroke-width="1.2" />
<line x1="491.30" y1="211.70" x2="491.30" y2="353.80" stroke="#777" stroke-width="1.2" />
<line x1="677.50" y1="211.70" x2="677.50" y2="353.80" stroke="#555" stroke-width="1" />
<line x1="491.30" y1="353.80" x2="677.50" y2="353.80" stroke="#777" stroke-width="1.2" />
<line x1="503.92" y1="353.80" x2="503.92" y2="355.10" stroke="#555" stroke-width="0.9" />
<line x1="503.92" y1="211.70" x2="503.92" y2="210.40" stroke="#555" stroke-width="0.9" />
<line x1="519.70" y1="353.80" x2="519.70" y2="356.00" stroke="#555" stroke-width="0.9" />
<line x1="519.70" y1="211.70" x2="519.70" y2="209.50" stroke="#555" stroke-width="0.9" />
<line x1="535.48" y1="353.80" x2="535.48" y2="355.10" stroke="#555" stroke-width="0.9" />
<line x1="535.48" y1="211.70" x2="535.48" y2="210.40" stroke="#555" stroke-width="0.9" />
<line x1="551.26" y1="353.80" x2="551.26" y2="356.00" stroke="#555" stroke-width="0.9" />
<line x1="551.26" y1="211.70" x2="551.26" y2="209.50" stroke="#555" stroke-width="0.9" />
<line x1="567.04" y1="353.80" x2="567.04" y2="355.10" stroke="#555" stroke-width="0.9" />
<line x1="567.04" y1="211.70" x2="567.04" y2="210.40" stroke="#555" stroke-width="0.9" />
<line x1="582.82" y1="353.80" x2="582.82" y2="356.00" stroke="#555" stroke-width="0.9" />
<line x1="582.82" y1="211.70" x2="582.82" y2="209.50" stroke="#555" stroke-width="0.9" />
<line x1="598.60" y1="353.80" x2="598.60" y2="355.10" stroke="#555" stroke-width="0.9" />
<line x1="598.60" y1="211.70" x2="598.60" y2="210.40" stroke="#555" stroke-width="0.9" />
<line x1="614.38" y1="353.80" x2="614.38" y2="356.00" stroke="#555" stroke-width="0.9" />
<line x1="614.38" y1="211.70" x2="614.38" y2="209.50" stroke="#555" stroke-width="0.9" />
<line x1="630.16" y1="353.80" x2="630.16" y2="355.10" stroke="#555" stroke-width="0.9" />
<line x1="630.16" y1="211.70" x2="630.16" y2="210.40" stroke="#555" stroke-width="0.9" />
<line x1="645.94" y1="353.80" x2="645.94" y2="356.00" stroke="#555" stroke-width="0.9" />
<line x1="645.94" y1="211.70" x2="645.94" y2="209.50" stroke="#555" stroke-width="0.9" />
<line x1="661.72" y1="353.80" x2="661.72" y2="355.10" stroke="#555" stroke-width="0.9" />
<line x1="661.72" y1="211.70" x2="661.72" y2="210.40" stroke="#555" stroke-width="0.9" />
<line x1="677.50" y1="353.80" x2="677.50" y2="356.00" stroke="#555" stroke-width="0.9" />
<line x1="677.50" y1="211.70" x2="677.50" y2="209.50" stroke="#555" stroke-width="0.9" />
<line x1="491.30" y1="353.80" x2="489.10" y2="353.80" stroke="#555" stroke-width="0.9" />
<line x1="677.50" y1="353.80" x2="679.70" y2="353.80" stroke="#555" stroke-width="0.9" />
<line x1="491.30" y1="339.59" x2="490.00" y2="339.59" stroke="#555" stroke-width="0.9" />
<line x1="677.50" y1="339.59" x2="678.80" y2="339.59" stroke="#555" stroke-width="0.9" />
<line x1="491.30" y1="325.38" x2="489.10" y2="325.38" stroke="#555" stroke-width="0.9" />
<line x1="677.50" y1="325.38" x2="679.70" y2="325.38" stroke="#555" stroke-width="0.9" />
<line x1="491.30" y1="311.17" x2="490.00" y2="311.17" stroke="#555" stroke-width="0.9" />
<line x1="677.50" y1="311.17" x2="678.80" y2="311.17" stroke="#555" stroke-width="0.9" />
<line x1="491.30" y1="296.96" x2="489.10" y2="296.96" stroke="#555" stroke-width="0.9" />
<line x1="677.50" y1="296.96" x2="679.70" y2="296.96" stroke="#555" stroke-width="0.9" />
<line x1="491.30" y1="282.75" x2="490.00" y2="282.75" stroke="#555" stroke-width="0.9" />
<line x1="677.50" y1="282.75" x2="678.80" y2="282.75" stroke="#555" stroke-width="0.9" />
<line x1="491.30" y1="268.54" x2="489.10" y2="268.54" stroke="#555" stroke-width="0.9" />
<line x1="677.50" y1="268.54" x2="679.70" y2="268.54" stroke="#555" stroke-width="0.9" />
<line x1="491.30" y1="254.33" x2="490.00" y2="254.33" stroke="#555" stroke-width="0.9" />
<line x1="677.50" y1="254.33" x2="678.80" y2="254.33" stroke="#555" stroke-width="0.9" />
<line x1="491.30" y1="240.12" x2="489.10" y2="240.12" stroke="#555" stroke-width="0.9" />
<line x1="677.50" y1="240.12" x2="679.70" y2="240.12" stroke="#555" stroke-width="0.9" />
<line x1="491.30" y1="225.91" x2="490.00" y2="225.91" stroke="#555" stroke-width="0.9" />
<line x1="677.50" y1="225.91" x2="678.80" y2="225.91" stroke="#555" stroke-width="0.9" />
<line x1="491.30" y1="211.70" x2="489.10" y2="211.70" stroke="#555" stroke-width="0.9" />
<line x1="677.50" y1="211.70" x2="679.70" y2="211.70" stroke="#555" stroke-width="0.9" />
<text x="486.60" y="215.50" font-size="10.5" text-anchor="end" fill="#000" stroke="#000" stroke-width="0.2" >0.4</text>
<text x="486.60" y="272.34" font-size="10.5" text-anchor="end" fill="#000" stroke="#000" stroke-width="0.2" >0.2</text>
<text x="486.60" y="329.18" font-size="10.5" text-anchor="end" fill="#000" stroke="#000" stroke-width="0.2" >0.0</text>
<text x="519.70" y="366.80" font-size="10" text-anchor="middle" fill="#000" stroke="#000" stroke-width="0.2" >1.5</text>
<text x="551.26" y="366.80" font-size="10" text-anchor="middle" fill="#000" stroke="#000" stroke-width="0.2" >2.0</text>
<text x="582.82" y="366.80" font-size="10" text-anchor="middle" fill="#000" stroke="#000" stroke-width="0.2" >2.5</text>
<text x="614.38" y="366.80" font-size="10" text-anchor="middle" fill="#000" stroke="#000" stroke-width="0.2" >3.0</text>
<text x="645.94" y="366.80" font-size="10" text-anchor="middle" fill="#000" stroke="#000" stroke-width="0.2" >3.5</text>
<text x="677.50" y="366.80" font-size="10" text-anchor="middle" fill="#000" stroke="#000" stroke-width="0.2" >4.0</text>
<text x="465.70" y="286.80" font-size="12.2" text-anchor="middle" fill="#000" stroke="#000" stroke-width="0.2" transform="rotate(-90 465.7 286.8)" >Φ<tspan font-size="8" dy="2.5">B</tspan><tspan dy="-2.5"> (eV)</tspan></text>
<text x="564.00" y="379.20" font-size="12.2" text-anchor="start" fill="#000" stroke="#000" stroke-width="0.2" >V<tspan font-size="8" dy="2.6">GS</tspan><tspan dy="-2.6"> (V)</tspan></text>
<defs><radialGradient id="fg" cx="0.42" cy="0.42" r="0.6"><stop offset="0" stop-color="#fff"/><stop offset="0.2" stop-color="#bbb"/><stop offset="0.45" stop-color="#111"/><stop offset="1" stop-color="#000"/></radialGradient></defs>
<circle cx="491.30" cy="224.20" r="2.0" fill="url(#fg)"/>
<circle cx="494.01" cy="256.89" r="2.0" fill="url(#fg)"/>
<circle cx="497.11" cy="247.51" r="2.0" fill="url(#fg)"/>
<circle cx="500.26" cy="253.47" r="2.0" fill="url(#fg)"/>
<circle cx="503.42" cy="262.91" r="2.0" fill="url(#fg)"/>
<circle cx="506.57" cy="273.65" r="2.0" fill="url(#fg)"/>
<circle cx="509.73" cy="280.81" r="2.0" fill="url(#fg)"/>
<circle cx="512.89" cy="285.80" r="2.0" fill="url(#fg)"/>
<circle cx="516.04" cy="291.31" r="2.0" fill="url(#fg)"/>
<circle cx="519.20" cy="295.99" r="2.0" fill="url(#fg)"/>
<circle cx="522.35" cy="299.77" r="2.0" fill="url(#fg)"/>
<circle cx="525.51" cy="303.77" r="2.0" fill="url(#fg)"/>
<circle cx="528.67" cy="306.97" r="2.0" fill="url(#fg)"/>
<circle cx="531.82" cy="309.64" r="2.0" fill="url(#fg)"/>
<circle cx="534.98" cy="311.98" r="2.0" fill="url(#fg)"/>
<circle cx="538.13" cy="314.00" r="2.0" fill="url(#fg)"/>
<circle cx="541.29" cy="315.74" r="2.0" fill="url(#fg)"/>
<circle cx="544.45" cy="317.33" r="2.0" fill="url(#fg)"/>
<circle cx="547.60" cy="318.77" r="2.0" fill="url(#fg)"/>
<circle cx="550.76" cy="320.07" r="2.0" fill="url(#fg)"/>
<circle cx="553.91" cy="321.26" r="2.0" fill="url(#fg)"/>
<circle cx="557.07" cy="322.35" r="2.0" fill="url(#fg)"/>
<circle cx="560.23" cy="323.27" r="2.0" fill="url(#fg)"/>
<circle cx="563.38" cy="323.99" r="2.0" fill="url(#fg)"/>
<circle cx="566.54" cy="324.62" r="2.0" fill="url(#fg)"/>
<circle cx="569.69" cy="325.18" r="2.0" fill="url(#fg)"/>
<circle cx="572.85" cy="325.69" r="2.0" fill="url(#fg)"/>
<circle cx="576.01" cy="326.19" r="2.0" fill="url(#fg)"/>
<circle cx="579.16" cy="326.69" r="2.0" fill="url(#fg)"/>
<circle cx="582.32" cy="327.17" r="2.0" fill="url(#fg)"/>
<circle cx="585.47" cy="327.64" r="2.0" fill="url(#fg)"/>
<circle cx="588.63" cy="328.09" r="2.0" fill="url(#fg)"/>
<circle cx="591.78" cy="328.52" r="2.0" fill="url(#fg)"/>
<circle cx="594.94" cy="328.93" r="2.0" fill="url(#fg)"/>
<circle cx="598.10" cy="329.32" r="2.0" fill="url(#fg)"/>
<circle cx="601.25" cy="329.69" r="2.0" fill="url(#fg)"/>
<circle cx="604.41" cy="330.05" r="2.0" fill="url(#fg)"/>
<circle cx="607.56" cy="330.39" r="2.0" fill="url(#fg)"/>
<circle cx="610.72" cy="330.72" r="2.0" fill="url(#fg)"/>
<circle cx="613.88" cy="331.02" r="2.0" fill="url(#fg)"/>
<circle cx="617.03" cy="331.30" r="2.0" fill="url(#fg)"/>
<circle cx="620.19" cy="331.56" r="2.0" fill="url(#fg)"/>
<circle cx="623.34" cy="331.81" r="2.0" fill="url(#fg)"/>
<circle cx="626.50" cy="332.05" r="2.0" fill="url(#fg)"/>
<circle cx="629.66" cy="332.27" r="2.0" fill="url(#fg)"/>
<circle cx="632.81" cy="332.49" r="2.0" fill="url(#fg)"/>
<circle cx="635.97" cy="332.71" r="2.0" fill="url(#fg)"/>
<circle cx="639.12" cy="332.92" r="2.0" fill="url(#fg)"/>
<circle cx="642.28" cy="333.12" r="2.0" fill="url(#fg)"/>
<circle cx="645.44" cy="333.31" r="2.0" fill="url(#fg)"/>
<circle cx="648.59" cy="333.49" r="2.0" fill="url(#fg)"/>
<circle cx="651.75" cy="333.66" r="2.0" fill="url(#fg)"/>
<circle cx="654.90" cy="333.81" r="2.0" fill="url(#fg)"/>
<circle cx="658.06" cy="333.96" r="2.0" fill="url(#fg)"/>
<circle cx="661.22" cy="334.09" r="2.0" fill="url(#fg)"/>
<circle cx="664.37" cy="334.22" r="2.0" fill="url(#fg)"/>
<circle cx="667.53" cy="334.35" r="2.0" fill="url(#fg)"/>
<circle cx="670.68" cy="334.48" r="2.0" fill="url(#fg)"/>
<circle cx="673.84" cy="334.61" r="2.0" fill="url(#fg)"/>
<circle cx="677.00" cy="334.74" r="2.0" fill="url(#fg)"/>
<line x1="518.70" y1="300.10" x2="495.60" y2="300.10" stroke="#ff1010" stroke-width="1.2" />
<path d="M491.60,300.10 L496.60,297.90 L495.40,300.10 L496.60,302.30 Z" fill="#ff1010"/>
<text x="528.30" y="300.80" font-size="10.2" text-anchor="start" fill="#000" stroke="#000" stroke-width="0.2" >Φ<tspan font-size="6.8" dy="2.4">SB</tspan><tspan dy="-2.4"> ~ 90 meV</tspan></text>
</svg></body></html>
